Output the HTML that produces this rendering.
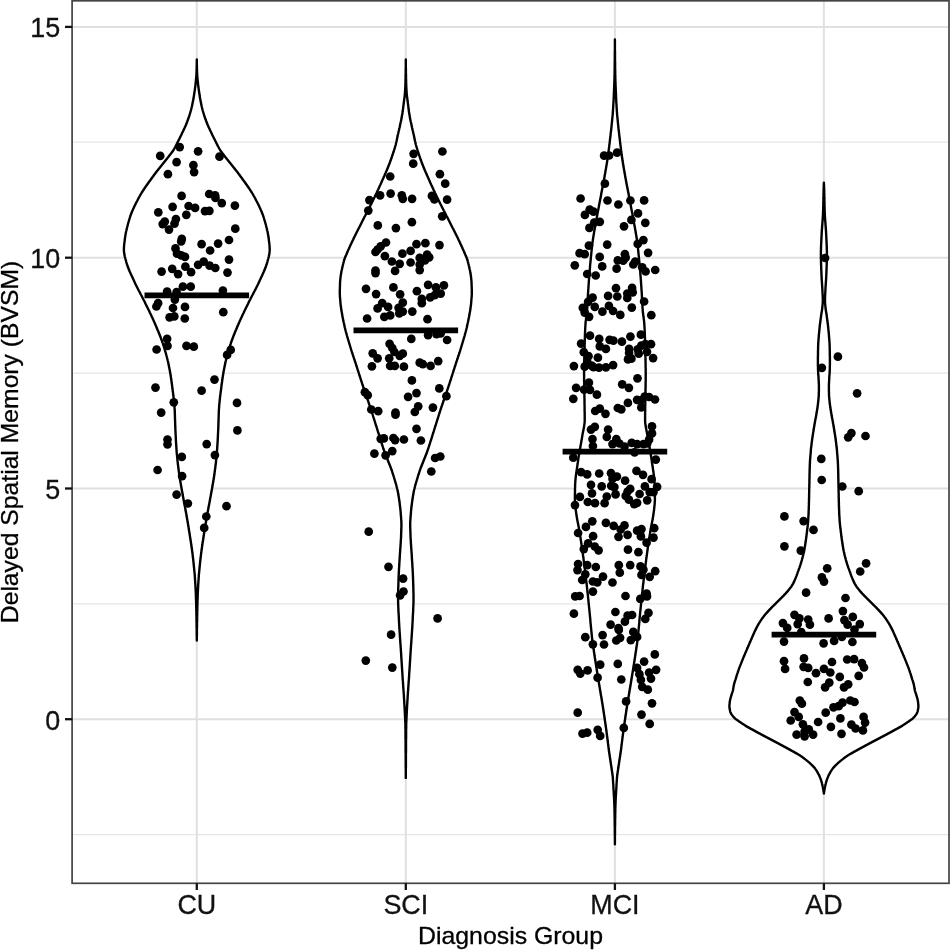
<!DOCTYPE html>
<html lang="en"><head><meta charset="utf-8"><title>Delayed Spatial Memory (BVSM) by Diagnosis Group</title>
<style>html,body{margin:0;padding:0;background:#fff}body{width:950px;height:950px;overflow:hidden}svg{display:block}text{font-family:"Liberation Sans",Arial,sans-serif}</style></head><body>
<svg width="950" height="950" viewBox="0 0 950 950">
<rect width="950" height="950" fill="#fff"/>
<g stroke="#e0e0e0" fill="none">
<line x1="72.1" x2="949.0" y1="834.6" y2="834.6" stroke-width="1.3" stroke="#e6e6e6"/>
<line x1="72.1" x2="949.0" y1="603.9" y2="603.9" stroke-width="1.3" stroke="#e6e6e6"/>
<line x1="72.1" x2="949.0" y1="373.1" y2="373.1" stroke-width="1.3" stroke="#e6e6e6"/>
<line x1="72.1" x2="949.0" y1="142.2" y2="142.2" stroke-width="1.3" stroke="#e6e6e6"/>
<line x1="72.1" x2="949.0" y1="719.2" y2="719.2" stroke-width="2"/>
<line x1="72.1" x2="949.0" y1="488.5" y2="488.5" stroke-width="2"/>
<line x1="72.1" x2="949.0" y1="257.7" y2="257.7" stroke-width="2"/>
<line x1="72.1" x2="949.0" y1="26.9" y2="26.9" stroke-width="2"/>
<line x1="196.8" x2="196.8" y1="0.8" y2="883.3" stroke-width="2"/>
<line x1="405.8" x2="405.8" y1="0.8" y2="883.3" stroke-width="2"/>
<line x1="614.9" x2="614.9" y1="0.8" y2="883.3" stroke-width="2"/>
<line x1="823.9" x2="823.9" y1="0.8" y2="883.3" stroke-width="2"/>
</g>
<g fill="#fff" stroke="#000" stroke-width="2.4" stroke-linejoin="round">
<path d="M196.8,59.5 196.8,60.5 196.8,61.5 196.8,62.5 196.8,63.5 196.8,64.5 196.7,65.5 196.7,66.5 196.7,67.5 196.7,68.5 196.6,69.5 196.6,70.5 196.6,71.5 196.5,72.5 196.5,73.5 196.4,74.5 196.4,75.5 196.3,76.5 196.2,77.5 196.1,78.5 196.0,79.5 195.9,80.5 195.8,81.5 195.7,82.5 195.6,83.5 195.5,84.5 195.4,85.5 195.3,86.5 195.1,87.5 195.0,88.5 194.9,89.5 194.7,90.5 194.6,91.5 194.4,92.5 194.3,93.5 194.1,94.5 194.0,95.5 193.8,96.5 193.7,97.5 193.5,98.5 193.3,99.5 193.1,100.5 192.9,101.5 192.7,102.5 192.5,103.5 192.3,104.5 192.1,105.5 191.9,106.5 191.6,107.5 191.4,108.5 191.1,109.5 190.9,110.5 190.6,111.5 190.3,112.5 190.0,113.5 189.7,114.5 189.4,115.5 189.1,116.5 188.7,117.5 188.4,118.5 188.0,119.5 187.6,120.5 187.3,121.5 186.9,122.5 186.5,123.5 186.1,124.5 185.7,125.5 185.2,126.5 184.8,127.5 184.3,128.5 183.8,129.5 183.4,130.5 182.9,131.5 182.4,132.5 181.9,133.5 181.5,134.5 181.0,135.5 180.5,136.5 180.0,137.5 179.5,138.5 179.0,139.5 178.5,140.5 178.0,141.5 177.5,142.5 177.0,143.5 176.5,144.5 176.0,145.5 175.5,146.5 174.9,147.5 174.4,148.5 173.8,149.5 173.2,150.5 172.5,151.5 171.7,152.5 171.0,153.5 170.2,154.5 169.4,155.5 168.7,156.5 167.9,157.5 167.1,158.5 166.3,159.5 165.5,160.5 164.7,161.5 163.9,162.5 163.1,163.5 162.3,164.5 161.5,165.5 160.7,166.5 159.9,167.5 159.1,168.5 158.3,169.5 157.5,170.5 156.7,171.5 155.9,172.5 155.2,173.5 154.4,174.5 153.7,175.5 153.0,176.5 152.2,177.5 151.5,178.5 150.8,179.5 150.1,180.5 149.3,181.5 148.6,182.5 147.9,183.5 147.2,184.5 146.5,185.5 145.8,186.5 145.1,187.5 144.4,188.5 143.8,189.5 143.1,190.5 142.5,191.5 141.8,192.5 141.2,193.5 140.6,194.5 140.1,195.5 139.5,196.5 138.9,197.5 138.4,198.5 137.9,199.5 137.4,200.5 136.8,201.5 136.3,202.5 135.8,203.5 135.3,204.5 134.8,205.5 134.3,206.5 133.9,207.5 133.4,208.5 133.0,209.5 132.5,210.5 132.1,211.5 131.7,212.5 131.3,213.5 130.9,214.5 130.6,215.5 130.2,216.5 129.9,217.5 129.6,218.5 129.3,219.5 129.0,220.5 128.7,221.5 128.4,222.5 128.1,223.5 127.8,224.5 127.6,225.5 127.3,226.5 127.1,227.5 126.8,228.5 126.6,229.5 126.4,230.5 126.1,231.5 125.9,232.5 125.7,233.5 125.6,234.5 125.4,235.5 125.2,236.5 125.1,237.5 124.9,238.5 124.8,239.5 124.7,240.5 124.6,241.5 124.4,242.5 124.3,243.5 124.2,244.5 124.1,245.5 124.0,246.5 124.0,247.5 123.9,248.5 123.9,249.5 123.9,250.5 124.0,251.5 124.1,252.5 124.2,253.5 124.4,254.5 124.6,255.5 124.8,256.5 125.1,257.5 125.3,258.5 125.6,259.5 125.9,260.5 126.1,261.5 126.4,262.5 126.7,263.5 127.0,264.5 127.4,265.5 127.7,266.5 128.1,267.5 128.5,268.5 128.9,269.5 129.3,270.5 129.7,271.5 130.2,272.5 130.6,273.5 131.1,274.5 131.5,275.5 132.0,276.5 132.5,277.5 132.9,278.5 133.4,279.5 133.9,280.5 134.3,281.5 134.8,282.5 135.2,283.5 135.7,284.5 136.2,285.5 136.7,286.5 137.2,287.5 137.7,288.5 138.2,289.5 138.7,290.5 139.3,291.5 139.8,292.5 140.3,293.5 140.8,294.5 141.4,295.5 141.9,296.5 142.4,297.5 142.9,298.5 143.4,299.5 144.0,300.5 144.5,301.5 145.0,302.5 145.4,303.5 145.9,304.5 146.4,305.5 146.9,306.5 147.4,307.5 147.9,308.5 148.4,309.5 148.9,310.5 149.4,311.5 149.8,312.5 150.3,313.5 150.8,314.5 151.3,315.5 151.7,316.5 152.2,317.5 152.7,318.5 153.1,319.5 153.6,320.5 154.0,321.5 154.5,322.5 154.9,323.5 155.3,324.5 155.8,325.5 156.2,326.5 156.6,327.5 157.0,328.5 157.4,329.5 157.9,330.5 158.3,331.5 158.7,332.5 159.1,333.5 159.5,334.5 159.9,335.5 160.3,336.5 160.7,337.5 161.0,338.5 161.4,339.5 161.8,340.5 162.1,341.5 162.5,342.5 162.8,343.5 163.1,344.5 163.5,345.5 163.8,346.5 164.1,347.5 164.4,348.5 164.7,349.5 165.0,350.5 165.3,351.5 165.6,352.5 165.9,353.5 166.2,354.5 166.4,355.5 166.7,356.5 167.0,357.5 167.2,358.5 167.5,359.5 167.7,360.5 168.0,361.5 168.2,362.5 168.4,363.5 168.6,364.5 168.8,365.5 169.0,366.5 169.2,367.5 169.4,368.5 169.6,369.5 169.8,370.5 170.0,371.5 170.1,372.5 170.3,373.5 170.5,374.5 170.6,375.5 170.8,376.5 170.9,377.5 171.1,378.5 171.2,379.5 171.4,380.5 171.5,381.5 171.6,382.5 171.8,383.5 171.9,384.5 172.1,385.5 172.2,386.5 172.3,387.5 172.4,388.5 172.6,389.5 172.7,390.5 172.8,391.5 173.0,392.5 173.1,393.5 173.2,394.5 173.3,395.5 173.5,396.5 173.6,397.5 173.7,398.5 173.8,399.5 173.9,400.5 174.0,401.5 174.1,402.5 174.2,403.5 174.3,404.5 174.4,405.5 174.5,406.5 174.5,407.5 174.6,408.5 174.7,409.5 174.7,410.5 174.8,411.5 174.8,412.5 174.8,413.5 174.9,414.5 174.9,415.5 174.9,416.5 175.0,417.5 175.0,418.5 175.0,419.5 175.1,420.5 175.1,421.5 175.1,422.5 175.2,423.5 175.2,424.5 175.2,425.5 175.3,426.5 175.3,427.5 175.3,428.5 175.4,429.5 175.4,430.5 175.5,431.5 175.5,432.5 175.6,433.5 175.6,434.5 175.7,435.5 175.7,436.5 175.8,437.5 175.8,438.5 175.9,439.5 175.9,440.5 176.0,441.5 176.0,442.5 176.1,443.5 176.2,444.5 176.2,445.5 176.3,446.5 176.4,447.5 176.4,448.5 176.5,449.5 176.6,450.5 176.6,451.5 176.7,452.5 176.8,453.5 176.9,454.5 177.0,455.5 177.1,456.5 177.2,457.5 177.3,458.5 177.4,459.5 177.5,460.5 177.6,461.5 177.7,462.5 177.8,463.5 177.9,464.5 178.1,465.5 178.2,466.5 178.3,467.5 178.4,468.5 178.6,469.5 178.7,470.5 178.8,471.5 179.0,472.5 179.1,473.5 179.2,474.5 179.4,475.5 179.5,476.5 179.7,477.5 179.8,478.5 180.0,479.5 180.2,480.5 180.3,481.5 180.5,482.5 180.7,483.5 180.9,484.5 181.0,485.5 181.2,486.5 181.4,487.5 181.6,488.5 181.7,489.5 181.9,490.5 182.1,491.5 182.3,492.5 182.5,493.5 182.6,494.5 182.8,495.5 183.0,496.5 183.2,497.5 183.4,498.5 183.6,499.5 183.7,500.5 183.9,501.5 184.1,502.5 184.3,503.5 184.5,504.5 184.7,505.5 184.9,506.5 185.1,507.5 185.3,508.5 185.4,509.5 185.6,510.5 185.8,511.5 186.0,512.5 186.2,513.5 186.4,514.5 186.5,515.5 186.7,516.5 186.9,517.5 187.0,518.5 187.2,519.5 187.4,520.5 187.6,521.5 187.7,522.5 187.9,523.5 188.1,524.5 188.2,525.5 188.4,526.5 188.6,527.5 188.7,528.5 188.9,529.5 189.0,530.5 189.2,531.5 189.4,532.5 189.5,533.5 189.7,534.5 189.8,535.5 190.0,536.5 190.1,537.5 190.3,538.5 190.4,539.5 190.6,540.5 190.8,541.5 190.9,542.5 191.1,543.5 191.2,544.5 191.4,545.5 191.5,546.5 191.6,547.5 191.8,548.5 191.9,549.5 192.1,550.5 192.2,551.5 192.3,552.5 192.5,553.5 192.6,554.5 192.7,555.5 192.8,556.5 192.9,557.5 193.1,558.5 193.2,559.5 193.3,560.5 193.4,561.5 193.5,562.5 193.6,563.5 193.7,564.5 193.8,565.5 193.9,566.5 194.0,567.5 194.1,568.5 194.2,569.5 194.3,570.5 194.4,571.5 194.5,572.5 194.6,573.5 194.7,574.5 194.8,575.5 194.8,576.5 194.9,577.5 195.0,578.5 195.0,579.5 195.1,580.5 195.2,581.5 195.2,582.5 195.3,583.5 195.4,584.5 195.4,585.5 195.5,586.5 195.5,587.5 195.6,588.5 195.6,589.5 195.7,590.5 195.7,591.5 195.8,592.5 195.8,593.5 195.9,594.5 195.9,595.5 195.9,596.5 196.0,597.5 196.0,598.5 196.0,599.5 196.1,600.5 196.1,601.5 196.1,602.5 196.2,603.5 196.2,604.5 196.2,605.5 196.2,606.5 196.3,607.5 196.3,608.5 196.3,609.5 196.3,610.5 196.4,611.5 196.4,612.5 196.4,613.5 196.4,614.5 196.4,615.5 196.5,616.5 196.5,617.5 196.5,618.5 196.5,619.5 196.5,620.5 196.5,621.5 196.6,622.5 196.6,623.5 196.6,624.5 196.6,625.5 196.6,626.5 196.6,627.5 196.7,628.5 196.7,629.5 196.7,630.5 196.7,631.5 196.7,632.5 196.7,633.5 196.7,634.5 196.7,635.5 196.8,636.5 196.8,637.5 196.8,638.5 196.8,639.5 196.8,640.5 196.8,640.5 196.8,639.5 196.8,638.5 196.8,637.5 196.8,636.5 196.9,635.5 196.9,634.5 196.9,633.5 196.9,632.5 196.9,631.5 196.9,630.5 196.9,629.5 196.9,628.5 197.0,627.5 197.0,626.5 197.0,625.5 197.0,624.5 197.0,623.5 197.0,622.5 197.1,621.5 197.1,620.5 197.1,619.5 197.1,618.5 197.1,617.5 197.1,616.5 197.2,615.5 197.2,614.5 197.2,613.5 197.2,612.5 197.2,611.5 197.3,610.5 197.3,609.5 197.3,608.5 197.3,607.5 197.4,606.5 197.4,605.5 197.4,604.5 197.4,603.5 197.5,602.5 197.5,601.5 197.5,600.5 197.6,599.5 197.6,598.5 197.6,597.5 197.7,596.5 197.7,595.5 197.7,594.5 197.8,593.5 197.8,592.5 197.9,591.5 197.9,590.5 198.0,589.5 198.0,588.5 198.1,587.5 198.1,586.5 198.2,585.5 198.2,584.5 198.3,583.5 198.4,582.5 198.4,581.5 198.5,580.5 198.6,579.5 198.6,578.5 198.7,577.5 198.8,576.5 198.8,575.5 198.9,574.5 199.0,573.5 199.1,572.5 199.2,571.5 199.3,570.5 199.4,569.5 199.5,568.5 199.6,567.5 199.7,566.5 199.8,565.5 199.9,564.5 200.0,563.5 200.1,562.5 200.2,561.5 200.3,560.5 200.4,559.5 200.5,558.5 200.7,557.5 200.8,556.5 200.9,555.5 201.0,554.5 201.1,553.5 201.3,552.5 201.4,551.5 201.5,550.5 201.7,549.5 201.8,548.5 202.0,547.5 202.1,546.5 202.2,545.5 202.4,544.5 202.5,543.5 202.7,542.5 202.8,541.5 203.0,540.5 203.2,539.5 203.3,538.5 203.5,537.5 203.6,536.5 203.8,535.5 203.9,534.5 204.1,533.5 204.2,532.5 204.4,531.5 204.6,530.5 204.7,529.5 204.9,528.5 205.0,527.5 205.2,526.5 205.4,525.5 205.5,524.5 205.7,523.5 205.9,522.5 206.0,521.5 206.2,520.5 206.4,519.5 206.6,518.5 206.7,517.5 206.9,516.5 207.1,515.5 207.2,514.5 207.4,513.5 207.6,512.5 207.8,511.5 208.0,510.5 208.2,509.5 208.3,508.5 208.5,507.5 208.7,506.5 208.9,505.5 209.1,504.5 209.3,503.5 209.5,502.5 209.7,501.5 209.9,500.5 210.0,499.5 210.2,498.5 210.4,497.5 210.6,496.5 210.8,495.5 211.0,494.5 211.1,493.5 211.3,492.5 211.5,491.5 211.7,490.5 211.9,489.5 212.0,488.5 212.2,487.5 212.4,486.5 212.6,485.5 212.7,484.5 212.9,483.5 213.1,482.5 213.3,481.5 213.4,480.5 213.6,479.5 213.8,478.5 213.9,477.5 214.1,476.5 214.2,475.5 214.4,474.5 214.5,473.5 214.6,472.5 214.8,471.5 214.9,470.5 215.0,469.5 215.2,468.5 215.3,467.5 215.4,466.5 215.5,465.5 215.7,464.5 215.8,463.5 215.9,462.5 216.0,461.5 216.1,460.5 216.2,459.5 216.3,458.5 216.4,457.5 216.5,456.5 216.6,455.5 216.7,454.5 216.8,453.5 216.9,452.5 217.0,451.5 217.0,450.5 217.1,449.5 217.2,448.5 217.2,447.5 217.3,446.5 217.4,445.5 217.4,444.5 217.5,443.5 217.6,442.5 217.6,441.5 217.7,440.5 217.7,439.5 217.8,438.5 217.8,437.5 217.9,436.5 217.9,435.5 218.0,434.5 218.0,433.5 218.1,432.5 218.1,431.5 218.2,430.5 218.2,429.5 218.3,428.5 218.3,427.5 218.3,426.5 218.4,425.5 218.4,424.5 218.4,423.5 218.5,422.5 218.5,421.5 218.5,420.5 218.6,419.5 218.6,418.5 218.6,417.5 218.7,416.5 218.7,415.5 218.7,414.5 218.8,413.5 218.8,412.5 218.8,411.5 218.9,410.5 218.9,409.5 219.0,408.5 219.1,407.5 219.1,406.5 219.2,405.5 219.3,404.5 219.4,403.5 219.5,402.5 219.6,401.5 219.7,400.5 219.8,399.5 219.9,398.5 220.0,397.5 220.1,396.5 220.3,395.5 220.4,394.5 220.5,393.5 220.6,392.5 220.8,391.5 220.9,390.5 221.0,389.5 221.2,388.5 221.3,387.5 221.4,386.5 221.5,385.5 221.7,384.5 221.8,383.5 222.0,382.5 222.1,381.5 222.2,380.5 222.4,379.5 222.5,378.5 222.7,377.5 222.8,376.5 223.0,375.5 223.1,374.5 223.3,373.5 223.5,372.5 223.6,371.5 223.8,370.5 224.0,369.5 224.2,368.5 224.4,367.5 224.6,366.5 224.8,365.5 225.0,364.5 225.2,363.5 225.4,362.5 225.6,361.5 225.9,360.5 226.1,359.5 226.4,358.5 226.6,357.5 226.9,356.5 227.2,355.5 227.4,354.5 227.7,353.5 228.0,352.5 228.3,351.5 228.6,350.5 228.9,349.5 229.2,348.5 229.5,347.5 229.8,346.5 230.1,345.5 230.5,344.5 230.8,343.5 231.1,342.5 231.5,341.5 231.8,340.5 232.2,339.5 232.6,338.5 232.9,337.5 233.3,336.5 233.7,335.5 234.1,334.5 234.5,333.5 234.9,332.5 235.3,331.5 235.7,330.5 236.2,329.5 236.6,328.5 237.0,327.5 237.4,326.5 237.8,325.5 238.3,324.5 238.7,323.5 239.1,322.5 239.6,321.5 240.0,320.5 240.5,319.5 240.9,318.5 241.4,317.5 241.9,316.5 242.3,315.5 242.8,314.5 243.3,313.5 243.8,312.5 244.2,311.5 244.7,310.5 245.2,309.5 245.7,308.5 246.2,307.5 246.7,306.5 247.2,305.5 247.7,304.5 248.2,303.5 248.6,302.5 249.1,301.5 249.6,300.5 250.2,299.5 250.7,298.5 251.2,297.5 251.7,296.5 252.2,295.5 252.8,294.5 253.3,293.5 253.8,292.5 254.3,291.5 254.9,290.5 255.4,289.5 255.9,288.5 256.4,287.5 256.9,286.5 257.4,285.5 257.9,284.5 258.4,283.5 258.8,282.5 259.3,281.5 259.7,280.5 260.2,279.5 260.7,278.5 261.1,277.5 261.6,276.5 262.1,275.5 262.5,274.5 263.0,273.5 263.4,272.5 263.9,271.5 264.3,270.5 264.7,269.5 265.1,268.5 265.5,267.5 265.9,266.5 266.2,265.5 266.6,264.5 266.9,263.5 267.2,262.5 267.5,261.5 267.7,260.5 268.0,259.5 268.3,258.5 268.5,257.5 268.8,256.5 269.0,255.5 269.2,254.5 269.4,253.5 269.5,252.5 269.6,251.5 269.7,250.5 269.7,249.5 269.7,248.5 269.6,247.5 269.6,246.5 269.5,245.5 269.4,244.5 269.3,243.5 269.2,242.5 269.0,241.5 268.9,240.5 268.8,239.5 268.7,238.5 268.5,237.5 268.4,236.5 268.2,235.5 268.0,234.5 267.9,233.5 267.7,232.5 267.5,231.5 267.2,230.5 267.0,229.5 266.8,228.5 266.5,227.5 266.3,226.5 266.0,225.5 265.8,224.5 265.5,223.5 265.2,222.5 264.9,221.5 264.6,220.5 264.3,219.5 264.0,218.5 263.7,217.5 263.4,216.5 263.0,215.5 262.7,214.5 262.3,213.5 261.9,212.5 261.5,211.5 261.1,210.5 260.6,209.5 260.2,208.5 259.7,207.5 259.3,206.5 258.8,205.5 258.3,204.5 257.8,203.5 257.3,202.5 256.8,201.5 256.2,200.5 255.7,199.5 255.2,198.5 254.7,197.5 254.1,196.5 253.5,195.5 253.0,194.5 252.4,193.5 251.8,192.5 251.1,191.5 250.5,190.5 249.8,189.5 249.2,188.5 248.5,187.5 247.8,186.5 247.1,185.5 246.4,184.5 245.7,183.5 245.0,182.5 244.3,181.5 243.5,180.5 242.8,179.5 242.1,178.5 241.4,177.5 240.6,176.5 239.9,175.5 239.2,174.5 238.4,173.5 237.7,172.5 236.9,171.5 236.1,170.5 235.3,169.5 234.5,168.5 233.7,167.5 232.9,166.5 232.1,165.5 231.3,164.5 230.5,163.5 229.7,162.5 228.9,161.5 228.1,160.5 227.3,159.5 226.5,158.5 225.7,157.5 224.9,156.5 224.2,155.5 223.4,154.5 222.6,153.5 221.9,152.5 221.1,151.5 220.4,150.5 219.8,149.5 219.2,148.5 218.7,147.5 218.1,146.5 217.6,145.5 217.1,144.5 216.6,143.5 216.1,142.5 215.6,141.5 215.1,140.5 214.6,139.5 214.1,138.5 213.6,137.5 213.1,136.5 212.6,135.5 212.1,134.5 211.7,133.5 211.2,132.5 210.7,131.5 210.2,130.5 209.8,129.5 209.3,128.5 208.8,127.5 208.4,126.5 207.9,125.5 207.5,124.5 207.1,123.5 206.7,122.5 206.3,121.5 206.0,120.5 205.6,119.5 205.2,118.5 204.9,117.5 204.5,116.5 204.2,115.5 203.9,114.5 203.6,113.5 203.3,112.5 203.0,111.5 202.7,110.5 202.5,109.5 202.2,108.5 202.0,107.5 201.7,106.5 201.5,105.5 201.3,104.5 201.1,103.5 200.9,102.5 200.7,101.5 200.5,100.5 200.3,99.5 200.1,98.5 199.9,97.5 199.8,96.5 199.6,95.5 199.5,94.5 199.3,93.5 199.2,92.5 199.0,91.5 198.9,90.5 198.7,89.5 198.6,88.5 198.5,87.5 198.3,86.5 198.2,85.5 198.1,84.5 198.0,83.5 197.9,82.5 197.8,81.5 197.7,80.5 197.6,79.5 197.5,78.5 197.4,77.5 197.3,76.5 197.2,75.5 197.2,74.5 197.1,73.5 197.1,72.5 197.0,71.5 197.0,70.5 197.0,69.5 196.9,68.5 196.9,67.5 196.9,66.5 196.9,65.5 196.8,64.5 196.8,63.5 196.8,62.5 196.8,61.5 196.8,60.5 196.8,59.5Z"/>
<path d="M405.8,59.5 405.8,60.5 405.8,61.5 405.8,62.5 405.8,63.5 405.8,64.5 405.8,65.5 405.8,66.5 405.8,67.5 405.7,68.5 405.7,69.5 405.7,70.5 405.7,71.5 405.7,72.5 405.7,73.5 405.6,74.5 405.6,75.5 405.6,76.5 405.6,77.5 405.6,78.5 405.5,79.5 405.5,80.5 405.5,81.5 405.5,82.5 405.4,83.5 405.4,84.5 405.4,85.5 405.3,86.5 405.3,87.5 405.2,88.5 405.2,89.5 405.1,90.5 405.0,91.5 405.0,92.5 404.9,93.5 404.8,94.5 404.7,95.5 404.6,96.5 404.5,97.5 404.3,98.5 404.2,99.5 404.1,100.5 403.9,101.5 403.8,102.5 403.7,103.5 403.6,104.5 403.4,105.5 403.3,106.5 403.2,107.5 403.1,108.5 402.9,109.5 402.8,110.5 402.7,111.5 402.5,112.5 402.4,113.5 402.2,114.5 402.0,115.5 401.8,116.5 401.7,117.5 401.5,118.5 401.3,119.5 401.1,120.5 400.9,121.5 400.6,122.5 400.4,123.5 400.2,124.5 400.0,125.5 399.8,126.5 399.6,127.5 399.3,128.5 399.1,129.5 398.9,130.5 398.6,131.5 398.4,132.5 398.2,133.5 397.9,134.5 397.7,135.5 397.5,136.5 397.3,137.5 397.1,138.5 396.9,139.5 396.7,140.5 396.5,141.5 396.2,142.5 396.0,143.5 395.8,144.5 395.5,145.5 395.2,146.5 394.9,147.5 394.6,148.5 394.3,149.5 394.0,150.5 393.7,151.5 393.3,152.5 393.0,153.5 392.7,154.5 392.3,155.5 392.0,156.5 391.7,157.5 391.3,158.5 391.0,159.5 390.6,160.5 390.2,161.5 389.9,162.5 389.5,163.5 389.1,164.5 388.7,165.5 388.3,166.5 387.9,167.5 387.5,168.5 387.1,169.5 386.7,170.5 386.2,171.5 385.8,172.5 385.3,173.5 384.9,174.5 384.5,175.5 384.0,176.5 383.6,177.5 383.1,178.5 382.7,179.5 382.2,180.5 381.8,181.5 381.4,182.5 380.9,183.5 380.5,184.5 380.0,185.5 379.5,186.5 379.1,187.5 378.6,188.5 378.2,189.5 377.7,190.5 377.2,191.5 376.8,192.5 376.3,193.5 375.8,194.5 375.3,195.5 374.9,196.5 374.4,197.5 373.9,198.5 373.4,199.5 372.9,200.5 372.4,201.5 371.9,202.5 371.5,203.5 370.9,204.5 370.4,205.5 369.9,206.5 369.4,207.5 368.9,208.5 368.4,209.5 367.9,210.5 367.3,211.5 366.8,212.5 366.3,213.5 365.8,214.5 365.3,215.5 364.7,216.5 364.2,217.5 363.7,218.5 363.2,219.5 362.7,220.5 362.2,221.5 361.7,222.5 361.2,223.5 360.7,224.5 360.2,225.5 359.7,226.5 359.2,227.5 358.6,228.5 358.1,229.5 357.6,230.5 357.1,231.5 356.6,232.5 356.1,233.5 355.6,234.5 355.1,235.5 354.6,236.5 354.1,237.5 353.6,238.5 353.2,239.5 352.7,240.5 352.2,241.5 351.7,242.5 351.3,243.5 350.8,244.5 350.3,245.5 349.9,246.5 349.4,247.5 349.0,248.5 348.5,249.5 348.1,250.5 347.6,251.5 347.2,252.5 346.8,253.5 346.4,254.5 345.9,255.5 345.5,256.5 345.1,257.5 344.7,258.5 344.4,259.5 344.0,260.5 343.8,261.5 343.5,262.5 343.3,263.5 343.0,264.5 342.8,265.5 342.5,266.5 342.3,267.5 342.1,268.5 341.9,269.5 341.6,270.5 341.4,271.5 341.3,272.5 341.1,273.5 340.9,274.5 340.8,275.5 340.6,276.5 340.5,277.5 340.4,278.5 340.3,279.5 340.2,280.5 340.1,281.5 340.1,282.5 340.0,283.5 340.0,284.5 340.0,285.5 339.9,286.5 339.9,287.5 339.9,288.5 339.8,289.5 339.8,290.5 339.8,291.5 339.8,292.5 339.8,293.5 339.8,294.5 339.9,295.5 339.9,296.5 340.0,297.5 340.1,298.5 340.2,299.5 340.3,300.5 340.3,301.5 340.4,302.5 340.5,303.5 340.6,304.5 340.7,305.5 340.9,306.5 341.0,307.5 341.1,308.5 341.3,309.5 341.4,310.5 341.6,311.5 341.8,312.5 342.0,313.5 342.1,314.5 342.3,315.5 342.5,316.5 342.7,317.5 342.9,318.5 343.1,319.5 343.3,320.5 343.5,321.5 343.7,322.5 344.0,323.5 344.2,324.5 344.4,325.5 344.6,326.5 344.8,327.5 345.1,328.5 345.3,329.5 345.6,330.5 345.8,331.5 346.1,332.5 346.4,333.5 346.7,334.5 346.9,335.5 347.2,336.5 347.5,337.5 347.8,338.5 348.1,339.5 348.4,340.5 348.7,341.5 349.0,342.5 349.3,343.5 349.6,344.5 349.9,345.5 350.2,346.5 350.5,347.5 350.8,348.5 351.1,349.5 351.4,350.5 351.7,351.5 352.0,352.5 352.4,353.5 352.7,354.5 353.0,355.5 353.4,356.5 353.7,357.5 354.0,358.5 354.4,359.5 354.7,360.5 355.0,361.5 355.4,362.5 355.7,363.5 356.0,364.5 356.3,365.5 356.7,366.5 357.0,367.5 357.3,368.5 357.6,369.5 357.9,370.5 358.3,371.5 358.6,372.5 358.9,373.5 359.2,374.5 359.5,375.5 359.9,376.5 360.2,377.5 360.5,378.5 360.8,379.5 361.1,380.5 361.5,381.5 361.8,382.5 362.1,383.5 362.4,384.5 362.8,385.5 363.1,386.5 363.4,387.5 363.8,388.5 364.1,389.5 364.4,390.5 364.8,391.5 365.1,392.5 365.5,393.5 365.8,394.5 366.2,395.5 366.5,396.5 366.9,397.5 367.2,398.5 367.6,399.5 367.9,400.5 368.3,401.5 368.6,402.5 368.9,403.5 369.3,404.5 369.6,405.5 370.0,406.5 370.3,407.5 370.6,408.5 371.0,409.5 371.3,410.5 371.6,411.5 371.9,412.5 372.3,413.5 372.6,414.5 372.9,415.5 373.2,416.5 373.5,417.5 373.8,418.5 374.2,419.5 374.5,420.5 374.8,421.5 375.1,422.5 375.4,423.5 375.7,424.5 376.0,425.5 376.4,426.5 376.7,427.5 377.0,428.5 377.3,429.5 377.6,430.5 377.9,431.5 378.2,432.5 378.6,433.5 378.9,434.5 379.2,435.5 379.5,436.5 379.8,437.5 380.1,438.5 380.4,439.5 380.8,440.5 381.1,441.5 381.4,442.5 381.7,443.5 382.0,444.5 382.4,445.5 382.7,446.5 383.0,447.5 383.3,448.5 383.7,449.5 384.0,450.5 384.4,451.5 384.7,452.5 385.1,453.5 385.5,454.5 385.9,455.5 386.3,456.5 386.7,457.5 387.1,458.5 387.5,459.5 387.9,460.5 388.3,461.5 388.7,462.5 389.1,463.5 389.5,464.5 389.9,465.5 390.3,466.5 390.7,467.5 391.1,468.5 391.4,469.5 391.8,470.5 392.1,471.5 392.4,472.5 392.7,473.5 393.1,474.5 393.4,475.5 393.7,476.5 394.0,477.5 394.3,478.5 394.6,479.5 394.9,480.5 395.2,481.5 395.5,482.5 395.8,483.5 396.1,484.5 396.4,485.5 396.6,486.5 396.9,487.5 397.1,488.5 397.4,489.5 397.6,490.5 397.8,491.5 398.0,492.5 398.2,493.5 398.3,494.5 398.5,495.5 398.7,496.5 398.8,497.5 399.0,498.5 399.1,499.5 399.3,500.5 399.4,501.5 399.6,502.5 399.7,503.5 399.8,504.5 399.9,505.5 400.1,506.5 400.2,507.5 400.3,508.5 400.4,509.5 400.5,510.5 400.6,511.5 400.7,512.5 400.7,513.5 400.8,514.5 400.9,515.5 401.0,516.5 401.1,517.5 401.1,518.5 401.2,519.5 401.3,520.5 401.3,521.5 401.4,522.5 401.4,523.5 401.4,524.5 401.4,525.5 401.4,526.5 401.4,527.5 401.3,528.5 401.3,529.5 401.3,530.5 401.2,531.5 401.2,532.5 401.2,533.5 401.1,534.5 401.1,535.5 401.1,536.5 401.0,537.5 401.0,538.5 400.9,539.5 400.8,540.5 400.8,541.5 400.7,542.5 400.7,543.5 400.6,544.5 400.5,545.5 400.5,546.5 400.4,547.5 400.3,548.5 400.2,549.5 400.2,550.5 400.1,551.5 400.0,552.5 400.0,553.5 399.9,554.5 399.8,555.5 399.8,556.5 399.7,557.5 399.7,558.5 399.6,559.5 399.5,560.5 399.5,561.5 399.4,562.5 399.3,563.5 399.3,564.5 399.2,565.5 399.2,566.5 399.1,567.5 399.0,568.5 399.0,569.5 398.9,570.5 398.9,571.5 398.8,572.5 398.8,573.5 398.7,574.5 398.7,575.5 398.6,576.5 398.6,577.5 398.6,578.5 398.5,579.5 398.5,580.5 398.5,581.5 398.4,582.5 398.4,583.5 398.4,584.5 398.3,585.5 398.3,586.5 398.3,587.5 398.2,588.5 398.2,589.5 398.2,590.5 398.2,591.5 398.2,592.5 398.1,593.5 398.1,594.5 398.1,595.5 398.1,596.5 398.1,597.5 398.1,598.5 398.1,599.5 398.1,600.5 398.1,601.5 398.1,602.5 398.2,603.5 398.2,604.5 398.2,605.5 398.3,606.5 398.3,607.5 398.4,608.5 398.4,609.5 398.4,610.5 398.5,611.5 398.5,612.5 398.6,613.5 398.7,614.5 398.7,615.5 398.8,616.5 398.8,617.5 398.9,618.5 398.9,619.5 398.9,620.5 399.0,621.5 399.1,622.5 399.1,623.5 399.2,624.5 399.2,625.5 399.3,626.5 399.3,627.5 399.4,628.5 399.5,629.5 399.5,630.5 399.6,631.5 399.7,632.5 399.7,633.5 399.8,634.5 399.9,635.5 399.9,636.5 400.0,637.5 400.1,638.5 400.1,639.5 400.2,640.5 400.3,641.5 400.3,642.5 400.4,643.5 400.5,644.5 400.6,645.5 400.6,646.5 400.7,647.5 400.8,648.5 400.8,649.5 400.9,650.5 401.0,651.5 401.0,652.5 401.1,653.5 401.2,654.5 401.2,655.5 401.3,656.5 401.3,657.5 401.4,658.5 401.5,659.5 401.5,660.5 401.6,661.5 401.7,662.5 401.7,663.5 401.8,664.5 401.8,665.5 401.9,666.5 402.0,667.5 402.0,668.5 402.1,669.5 402.2,670.5 402.2,671.5 402.3,672.5 402.4,673.5 402.4,674.5 402.5,675.5 402.5,676.5 402.6,677.5 402.7,678.5 402.7,679.5 402.8,680.5 402.9,681.5 403.0,682.5 403.0,683.5 403.1,684.5 403.2,685.5 403.2,686.5 403.3,687.5 403.4,688.5 403.4,689.5 403.5,690.5 403.6,691.5 403.7,692.5 403.7,693.5 403.8,694.5 403.9,695.5 403.9,696.5 404.0,697.5 404.0,698.5 404.1,699.5 404.2,700.5 404.2,701.5 404.3,702.5 404.3,703.5 404.4,704.5 404.5,705.5 404.5,706.5 404.6,707.5 404.6,708.5 404.7,709.5 404.7,710.5 404.8,711.5 404.8,712.5 404.9,713.5 404.9,714.5 405.0,715.5 405.0,716.5 405.1,717.5 405.1,718.5 405.2,719.5 405.2,720.5 405.3,721.5 405.3,722.5 405.4,723.5 405.4,724.5 405.4,725.5 405.4,726.5 405.4,727.5 405.4,728.5 405.5,729.5 405.5,730.5 405.5,731.5 405.5,732.5 405.5,733.5 405.5,734.5 405.5,735.5 405.5,736.5 405.5,737.5 405.5,738.5 405.6,739.5 405.6,740.5 405.6,741.5 405.6,742.5 405.6,743.5 405.6,744.5 405.6,745.5 405.6,746.5 405.6,747.5 405.6,748.5 405.6,749.5 405.6,750.5 405.6,751.5 405.6,752.5 405.7,753.5 405.7,754.5 405.7,755.5 405.7,756.5 405.7,757.5 405.7,758.5 405.7,759.5 405.7,760.5 405.7,761.5 405.7,762.5 405.7,763.5 405.7,764.5 405.7,765.5 405.7,766.5 405.7,767.5 405.8,768.5 405.8,769.5 405.8,770.5 405.8,771.5 405.8,772.5 405.8,773.5 405.8,774.5 405.8,775.5 405.8,776.5 405.8,777.5 405.8,777.9 405.8,777.9 405.8,777.5 405.8,776.5 405.8,775.5 405.8,774.5 405.8,773.5 405.8,772.5 405.8,771.5 405.8,770.5 405.8,769.5 405.8,768.5 405.9,767.5 405.9,766.5 405.9,765.5 405.9,764.5 405.9,763.5 405.9,762.5 405.9,761.5 405.9,760.5 405.9,759.5 405.9,758.5 405.9,757.5 405.9,756.5 405.9,755.5 405.9,754.5 405.9,753.5 406.0,752.5 406.0,751.5 406.0,750.5 406.0,749.5 406.0,748.5 406.0,747.5 406.0,746.5 406.0,745.5 406.0,744.5 406.0,743.5 406.0,742.5 406.0,741.5 406.0,740.5 406.0,739.5 406.1,738.5 406.1,737.5 406.1,736.5 406.1,735.5 406.1,734.5 406.1,733.5 406.1,732.5 406.1,731.5 406.1,730.5 406.1,729.5 406.2,728.5 406.2,727.5 406.2,726.5 406.2,725.5 406.2,724.5 406.2,723.5 406.3,722.5 406.3,721.5 406.4,720.5 406.4,719.5 406.5,718.5 406.5,717.5 406.6,716.5 406.6,715.5 406.7,714.5 406.7,713.5 406.8,712.5 406.8,711.5 406.9,710.5 406.9,709.5 407.0,708.5 407.0,707.5 407.1,706.5 407.1,705.5 407.2,704.5 407.3,703.5 407.3,702.5 407.4,701.5 407.4,700.5 407.5,699.5 407.6,698.5 407.6,697.5 407.7,696.5 407.7,695.5 407.8,694.5 407.9,693.5 407.9,692.5 408.0,691.5 408.1,690.5 408.2,689.5 408.2,688.5 408.3,687.5 408.4,686.5 408.4,685.5 408.5,684.5 408.6,683.5 408.6,682.5 408.7,681.5 408.8,680.5 408.9,679.5 408.9,678.5 409.0,677.5 409.1,676.5 409.1,675.5 409.2,674.5 409.2,673.5 409.3,672.5 409.4,671.5 409.4,670.5 409.5,669.5 409.6,668.5 409.6,667.5 409.7,666.5 409.8,665.5 409.8,664.5 409.9,663.5 409.9,662.5 410.0,661.5 410.1,660.5 410.1,659.5 410.2,658.5 410.3,657.5 410.3,656.5 410.4,655.5 410.4,654.5 410.5,653.5 410.6,652.5 410.6,651.5 410.7,650.5 410.8,649.5 410.8,648.5 410.9,647.5 411.0,646.5 411.0,645.5 411.1,644.5 411.2,643.5 411.3,642.5 411.3,641.5 411.4,640.5 411.5,639.5 411.5,638.5 411.6,637.5 411.7,636.5 411.7,635.5 411.8,634.5 411.9,633.5 411.9,632.5 412.0,631.5 412.1,630.5 412.1,629.5 412.2,628.5 412.3,627.5 412.3,626.5 412.4,625.5 412.4,624.5 412.5,623.5 412.5,622.5 412.6,621.5 412.7,620.5 412.7,619.5 412.7,618.5 412.8,617.5 412.8,616.5 412.9,615.5 412.9,614.5 413.0,613.5 413.1,612.5 413.1,611.5 413.2,610.5 413.2,609.5 413.2,608.5 413.3,607.5 413.3,606.5 413.4,605.5 413.4,604.5 413.4,603.5 413.5,602.5 413.5,601.5 413.5,600.5 413.5,599.5 413.5,598.5 413.5,597.5 413.5,596.5 413.5,595.5 413.5,594.5 413.5,593.5 413.4,592.5 413.4,591.5 413.4,590.5 413.4,589.5 413.4,588.5 413.3,587.5 413.3,586.5 413.3,585.5 413.2,584.5 413.2,583.5 413.2,582.5 413.1,581.5 413.1,580.5 413.1,579.5 413.0,578.5 413.0,577.5 413.0,576.5 412.9,575.5 412.9,574.5 412.8,573.5 412.8,572.5 412.7,571.5 412.7,570.5 412.6,569.5 412.6,568.5 412.5,567.5 412.4,566.5 412.4,565.5 412.3,564.5 412.3,563.5 412.2,562.5 412.1,561.5 412.1,560.5 412.0,559.5 411.9,558.5 411.9,557.5 411.8,556.5 411.8,555.5 411.7,554.5 411.6,553.5 411.6,552.5 411.5,551.5 411.4,550.5 411.4,549.5 411.3,548.5 411.2,547.5 411.1,546.5 411.1,545.5 411.0,544.5 410.9,543.5 410.9,542.5 410.8,541.5 410.8,540.5 410.7,539.5 410.6,538.5 410.6,537.5 410.5,536.5 410.5,535.5 410.5,534.5 410.4,533.5 410.4,532.5 410.4,531.5 410.3,530.5 410.3,529.5 410.3,528.5 410.2,527.5 410.2,526.5 410.2,525.5 410.2,524.5 410.2,523.5 410.2,522.5 410.3,521.5 410.3,520.5 410.4,519.5 410.5,518.5 410.5,517.5 410.6,516.5 410.7,515.5 410.8,514.5 410.9,513.5 410.9,512.5 411.0,511.5 411.1,510.5 411.2,509.5 411.3,508.5 411.4,507.5 411.5,506.5 411.7,505.5 411.8,504.5 411.9,503.5 412.0,502.5 412.2,501.5 412.3,500.5 412.5,499.5 412.6,498.5 412.8,497.5 412.9,496.5 413.1,495.5 413.3,494.5 413.4,493.5 413.6,492.5 413.8,491.5 414.0,490.5 414.2,489.5 414.5,488.5 414.7,487.5 415.0,486.5 415.2,485.5 415.5,484.5 415.8,483.5 416.1,482.5 416.4,481.5 416.7,480.5 417.0,479.5 417.3,478.5 417.6,477.5 417.9,476.5 418.2,475.5 418.5,474.5 418.9,473.5 419.2,472.5 419.5,471.5 419.8,470.5 420.2,469.5 420.5,468.5 420.9,467.5 421.3,466.5 421.7,465.5 422.1,464.5 422.5,463.5 422.9,462.5 423.3,461.5 423.7,460.5 424.1,459.5 424.5,458.5 424.9,457.5 425.3,456.5 425.7,455.5 426.1,454.5 426.5,453.5 426.9,452.5 427.2,451.5 427.6,450.5 427.9,449.5 428.3,448.5 428.6,447.5 428.9,446.5 429.2,445.5 429.6,444.5 429.9,443.5 430.2,442.5 430.5,441.5 430.8,440.5 431.2,439.5 431.5,438.5 431.8,437.5 432.1,436.5 432.4,435.5 432.7,434.5 433.0,433.5 433.4,432.5 433.7,431.5 434.0,430.5 434.3,429.5 434.6,428.5 434.9,427.5 435.2,426.5 435.6,425.5 435.9,424.5 436.2,423.5 436.5,422.5 436.8,421.5 437.1,420.5 437.4,419.5 437.8,418.5 438.1,417.5 438.4,416.5 438.7,415.5 439.0,414.5 439.3,413.5 439.7,412.5 440.0,411.5 440.3,410.5 440.6,409.5 441.0,408.5 441.3,407.5 441.6,406.5 442.0,405.5 442.3,404.5 442.7,403.5 443.0,402.5 443.3,401.5 443.7,400.5 444.0,399.5 444.4,398.5 444.7,397.5 445.1,396.5 445.4,395.5 445.8,394.5 446.1,393.5 446.5,392.5 446.8,391.5 447.2,390.5 447.5,389.5 447.8,388.5 448.2,387.5 448.5,386.5 448.8,385.5 449.2,384.5 449.5,383.5 449.8,382.5 450.1,381.5 450.5,380.5 450.8,379.5 451.1,378.5 451.4,377.5 451.7,376.5 452.1,375.5 452.4,374.5 452.7,373.5 453.0,372.5 453.3,371.5 453.7,370.5 454.0,369.5 454.3,368.5 454.6,367.5 454.9,366.5 455.3,365.5 455.6,364.5 455.9,363.5 456.2,362.5 456.6,361.5 456.9,360.5 457.2,359.5 457.6,358.5 457.9,357.5 458.2,356.5 458.6,355.5 458.9,354.5 459.2,353.5 459.6,352.5 459.9,351.5 460.2,350.5 460.5,349.5 460.8,348.5 461.1,347.5 461.4,346.5 461.7,345.5 462.0,344.5 462.3,343.5 462.6,342.5 462.9,341.5 463.2,340.5 463.5,339.5 463.8,338.5 464.1,337.5 464.4,336.5 464.7,335.5 464.9,334.5 465.2,333.5 465.5,332.5 465.8,331.5 466.0,330.5 466.3,329.5 466.5,328.5 466.8,327.5 467.0,326.5 467.2,325.5 467.4,324.5 467.6,323.5 467.9,322.5 468.1,321.5 468.3,320.5 468.5,319.5 468.7,318.5 468.9,317.5 469.1,316.5 469.3,315.5 469.5,314.5 469.6,313.5 469.8,312.5 470.0,311.5 470.2,310.5 470.3,309.5 470.5,308.5 470.6,307.5 470.7,306.5 470.9,305.5 471.0,304.5 471.1,303.5 471.2,302.5 471.3,301.5 471.3,300.5 471.4,299.5 471.5,298.5 471.6,297.5 471.7,296.5 471.7,295.5 471.8,294.5 471.8,293.5 471.8,292.5 471.8,291.5 471.8,290.5 471.8,289.5 471.7,288.5 471.7,287.5 471.7,286.5 471.6,285.5 471.6,284.5 471.6,283.5 471.5,282.5 471.5,281.5 471.4,280.5 471.3,279.5 471.2,278.5 471.1,277.5 471.0,276.5 470.8,275.5 470.7,274.5 470.5,273.5 470.3,272.5 470.2,271.5 470.0,270.5 469.7,269.5 469.5,268.5 469.3,267.5 469.1,266.5 468.8,265.5 468.6,264.5 468.3,263.5 468.1,262.5 467.8,261.5 467.6,260.5 467.2,259.5 466.9,258.5 466.5,257.5 466.1,256.5 465.7,255.5 465.2,254.5 464.8,253.5 464.4,252.5 464.0,251.5 463.5,250.5 463.1,249.5 462.6,248.5 462.2,247.5 461.7,246.5 461.3,245.5 460.8,244.5 460.3,243.5 459.9,242.5 459.4,241.5 458.9,240.5 458.4,239.5 458.0,238.5 457.5,237.5 457.0,236.5 456.5,235.5 456.0,234.5 455.5,233.5 455.0,232.5 454.5,231.5 454.0,230.5 453.5,229.5 453.0,228.5 452.4,227.5 451.9,226.5 451.4,225.5 450.9,224.5 450.4,223.5 449.9,222.5 449.4,221.5 448.9,220.5 448.4,219.5 447.9,218.5 447.4,217.5 446.9,216.5 446.3,215.5 445.8,214.5 445.3,213.5 444.8,212.5 444.3,211.5 443.7,210.5 443.2,209.5 442.7,208.5 442.2,207.5 441.7,206.5 441.2,205.5 440.7,204.5 440.1,203.5 439.7,202.5 439.2,201.5 438.7,200.5 438.2,199.5 437.7,198.5 437.2,197.5 436.7,196.5 436.3,195.5 435.8,194.5 435.3,193.5 434.8,192.5 434.4,191.5 433.9,190.5 433.4,189.5 433.0,188.5 432.5,187.5 432.1,186.5 431.6,185.5 431.1,184.5 430.7,183.5 430.2,182.5 429.8,181.5 429.4,180.5 428.9,179.5 428.5,178.5 428.0,177.5 427.6,176.5 427.1,175.5 426.7,174.5 426.3,173.5 425.8,172.5 425.4,171.5 424.9,170.5 424.5,169.5 424.1,168.5 423.7,167.5 423.3,166.5 422.9,165.5 422.5,164.5 422.1,163.5 421.7,162.5 421.4,161.5 421.0,160.5 420.6,159.5 420.3,158.5 419.9,157.5 419.6,156.5 419.3,155.5 418.9,154.5 418.6,153.5 418.3,152.5 417.9,151.5 417.6,150.5 417.3,149.5 417.0,148.5 416.7,147.5 416.4,146.5 416.1,145.5 415.8,144.5 415.6,143.5 415.4,142.5 415.1,141.5 414.9,140.5 414.7,139.5 414.5,138.5 414.3,137.5 414.1,136.5 413.9,135.5 413.7,134.5 413.4,133.5 413.2,132.5 413.0,131.5 412.7,130.5 412.5,129.5 412.3,128.5 412.0,127.5 411.8,126.5 411.6,125.5 411.4,124.5 411.2,123.5 411.0,122.5 410.7,121.5 410.5,120.5 410.3,119.5 410.1,118.5 409.9,117.5 409.8,116.5 409.6,115.5 409.4,114.5 409.2,113.5 409.1,112.5 408.9,111.5 408.8,110.5 408.7,109.5 408.5,108.5 408.4,107.5 408.3,106.5 408.2,105.5 408.0,104.5 407.9,103.5 407.8,102.5 407.7,101.5 407.5,100.5 407.4,99.5 407.3,98.5 407.1,97.5 407.0,96.5 406.9,95.5 406.8,94.5 406.7,93.5 406.6,92.5 406.6,91.5 406.5,90.5 406.4,89.5 406.4,88.5 406.3,87.5 406.3,86.5 406.2,85.5 406.2,84.5 406.2,83.5 406.1,82.5 406.1,81.5 406.1,80.5 406.1,79.5 406.0,78.5 406.0,77.5 406.0,76.5 406.0,75.5 406.0,74.5 405.9,73.5 405.9,72.5 405.9,71.5 405.9,70.5 405.9,69.5 405.9,68.5 405.8,67.5 405.8,66.5 405.8,65.5 405.8,64.5 405.8,63.5 405.8,62.5 405.8,61.5 405.8,60.5 405.8,59.5Z"/>
<path d="M614.9,39.5 614.9,40.5 614.9,41.5 614.9,42.5 614.9,43.5 614.9,44.5 614.9,45.5 614.9,46.5 614.9,47.5 614.9,48.5 614.9,49.5 614.9,50.5 614.8,51.5 614.8,52.5 614.8,53.5 614.8,54.5 614.8,55.5 614.8,56.5 614.8,57.5 614.8,58.5 614.8,59.5 614.8,60.5 614.7,61.5 614.7,62.5 614.7,63.5 614.7,64.5 614.7,65.5 614.7,66.5 614.7,67.5 614.7,68.5 614.6,69.5 614.6,70.5 614.6,71.5 614.6,72.5 614.6,73.5 614.6,74.5 614.5,75.5 614.5,76.5 614.5,77.5 614.5,78.5 614.4,79.5 614.4,80.5 614.4,81.5 614.3,82.5 614.3,83.5 614.3,84.5 614.2,85.5 614.2,86.5 614.1,87.5 614.1,88.5 614.1,89.5 614.0,90.5 614.0,91.5 613.9,92.5 613.9,93.5 613.8,94.5 613.8,95.5 613.8,96.5 613.7,97.5 613.7,98.5 613.6,99.5 613.6,100.5 613.5,101.5 613.5,102.5 613.4,103.5 613.3,104.5 613.3,105.5 613.2,106.5 613.2,107.5 613.1,108.5 613.0,109.5 613.0,110.5 612.9,111.5 612.8,112.5 612.8,113.5 612.7,114.5 612.6,115.5 612.5,116.5 612.4,117.5 612.3,118.5 612.2,119.5 612.1,120.5 612.0,121.5 611.9,122.5 611.8,123.5 611.7,124.5 611.6,125.5 611.5,126.5 611.4,127.5 611.3,128.5 611.2,129.5 611.1,130.5 610.9,131.5 610.8,132.5 610.7,133.5 610.6,134.5 610.5,135.5 610.4,136.5 610.3,137.5 610.1,138.5 610.0,139.5 609.9,140.5 609.8,141.5 609.7,142.5 609.6,143.5 609.4,144.5 609.3,145.5 609.2,146.5 609.1,147.5 608.9,148.5 608.8,149.5 608.7,150.5 608.6,151.5 608.4,152.5 608.3,153.5 608.2,154.5 608.0,155.5 607.9,156.5 607.7,157.5 607.6,158.5 607.4,159.5 607.3,160.5 607.1,161.5 607.0,162.5 606.8,163.5 606.6,164.5 606.5,165.5 606.3,166.5 606.1,167.5 606.0,168.5 605.8,169.5 605.6,170.5 605.4,171.5 605.3,172.5 605.1,173.5 604.9,174.5 604.7,175.5 604.6,176.5 604.4,177.5 604.2,178.5 604.0,179.5 603.8,180.5 603.7,181.5 603.5,182.5 603.3,183.5 603.1,184.5 602.9,185.5 602.7,186.5 602.5,187.5 602.3,188.5 602.1,189.5 601.9,190.5 601.7,191.5 601.5,192.5 601.3,193.5 601.1,194.5 601.0,195.5 600.8,196.5 600.6,197.5 600.4,198.5 600.2,199.5 600.0,200.5 599.8,201.5 599.6,202.5 599.4,203.5 599.2,204.5 599.0,205.5 598.9,206.5 598.7,207.5 598.5,208.5 598.3,209.5 598.1,210.5 597.9,211.5 597.7,212.5 597.5,213.5 597.3,214.5 597.2,215.5 597.0,216.5 596.8,217.5 596.6,218.5 596.4,219.5 596.2,220.5 596.0,221.5 595.9,222.5 595.7,223.5 595.5,224.5 595.3,225.5 595.1,226.5 594.9,227.5 594.8,228.5 594.6,229.5 594.4,230.5 594.2,231.5 594.1,232.5 593.9,233.5 593.7,234.5 593.6,235.5 593.4,236.5 593.2,237.5 593.1,238.5 592.9,239.5 592.8,240.5 592.7,241.5 592.5,242.5 592.4,243.5 592.3,244.5 592.2,245.5 592.1,246.5 591.9,247.5 591.8,248.5 591.7,249.5 591.6,250.5 591.5,251.5 591.4,252.5 591.3,253.5 591.2,254.5 591.1,255.5 591.0,256.5 590.9,257.5 590.8,258.5 590.7,259.5 590.6,260.5 590.5,261.5 590.4,262.5 590.3,263.5 590.2,264.5 590.1,265.5 590.0,266.5 590.0,267.5 589.9,268.5 589.8,269.5 589.7,270.5 589.6,271.5 589.5,272.5 589.5,273.5 589.4,274.5 589.3,275.5 589.2,276.5 589.1,277.5 589.1,278.5 589.0,279.5 588.9,280.5 588.8,281.5 588.8,282.5 588.7,283.5 588.6,284.5 588.6,285.5 588.5,286.5 588.4,287.5 588.4,288.5 588.3,289.5 588.2,290.5 588.2,291.5 588.1,292.5 588.0,293.5 588.0,294.5 587.9,295.5 587.9,296.5 587.8,297.5 587.8,298.5 587.7,299.5 587.7,300.5 587.6,301.5 587.6,302.5 587.5,303.5 587.5,304.5 587.4,305.5 587.3,306.5 587.3,307.5 587.2,308.5 587.1,309.5 587.1,310.5 587.0,311.5 586.9,312.5 586.7,313.5 586.6,314.5 586.5,315.5 586.4,316.5 586.2,317.5 586.1,318.5 586.0,319.5 585.8,320.5 585.7,321.5 585.6,322.5 585.5,323.5 585.5,324.5 585.4,325.5 585.3,326.5 585.3,327.5 585.2,328.5 585.2,329.5 585.1,330.5 585.1,331.5 585.0,332.5 585.0,333.5 585.0,334.5 584.9,335.5 584.9,336.5 584.9,337.5 584.8,338.5 584.8,339.5 584.8,340.5 584.7,341.5 584.7,342.5 584.7,343.5 584.6,344.5 584.6,345.5 584.6,346.5 584.6,347.5 584.5,348.5 584.5,349.5 584.5,350.5 584.5,351.5 584.5,352.5 584.4,353.5 584.4,354.5 584.4,355.5 584.4,356.5 584.3,357.5 584.3,358.5 584.3,359.5 584.3,360.5 584.3,361.5 584.2,362.5 584.2,363.5 584.2,364.5 584.2,365.5 584.2,366.5 584.2,367.5 584.1,368.5 584.1,369.5 584.1,370.5 584.1,371.5 584.1,372.5 584.1,373.5 584.1,374.5 584.1,375.5 584.1,376.5 584.1,377.5 584.1,378.5 584.1,379.5 584.1,380.5 584.1,381.5 584.2,382.5 584.2,383.5 584.2,384.5 584.2,385.5 584.2,386.5 584.2,387.5 584.3,388.5 584.3,389.5 584.3,390.5 584.3,391.5 584.3,392.5 584.4,393.5 584.4,394.5 584.4,395.5 584.4,396.5 584.4,397.5 584.5,398.5 584.5,399.5 584.5,400.5 584.5,401.5 584.5,402.5 584.5,403.5 584.5,404.5 584.6,405.5 584.6,406.5 584.6,407.5 584.6,408.5 584.6,409.5 584.6,410.5 584.6,411.5 584.7,412.5 584.7,413.5 584.7,414.5 584.7,415.5 584.7,416.5 584.7,417.5 584.7,418.5 584.7,419.5 584.7,420.5 584.7,421.5 584.6,422.5 584.5,423.5 584.4,424.5 584.2,425.5 584.1,426.5 583.9,427.5 583.7,428.5 583.5,429.5 583.3,430.5 583.1,431.5 582.9,432.5 582.7,433.5 582.5,434.5 582.4,435.5 582.2,436.5 582.0,437.5 581.9,438.5 581.7,439.5 581.5,440.5 581.3,441.5 581.2,442.5 581.0,443.5 580.8,444.5 580.6,445.5 580.4,446.5 580.3,447.5 580.1,448.5 579.9,449.5 579.7,450.5 579.5,451.5 579.4,452.5 579.2,453.5 579.0,454.5 578.9,455.5 578.7,456.5 578.5,457.5 578.4,458.5 578.2,459.5 578.1,460.5 578.0,461.5 577.8,462.5 577.7,463.5 577.5,464.5 577.4,465.5 577.2,466.5 577.1,467.5 576.9,468.5 576.8,469.5 576.6,470.5 576.5,471.5 576.3,472.5 576.2,473.5 576.1,474.5 575.9,475.5 575.8,476.5 575.7,477.5 575.6,478.5 575.5,479.5 575.4,480.5 575.3,481.5 575.3,482.5 575.2,483.5 575.1,484.5 575.1,485.5 575.1,486.5 575.1,487.5 575.0,488.5 575.0,489.5 575.0,490.5 575.0,491.5 575.0,492.5 574.9,493.5 574.9,494.5 574.9,495.5 574.9,496.5 574.9,497.5 574.9,498.5 574.9,499.5 574.9,500.5 575.0,501.5 575.1,502.5 575.1,503.5 575.2,504.5 575.3,505.5 575.4,506.5 575.5,507.5 575.6,508.5 575.7,509.5 575.8,510.5 576.0,511.5 576.1,512.5 576.2,513.5 576.4,514.5 576.5,515.5 576.7,516.5 576.9,517.5 577.0,518.5 577.2,519.5 577.4,520.5 577.6,521.5 577.8,522.5 578.0,523.5 578.2,524.5 578.4,525.5 578.6,526.5 578.8,527.5 578.9,528.5 579.1,529.5 579.3,530.5 579.4,531.5 579.6,532.5 579.8,533.5 579.9,534.5 580.1,535.5 580.3,536.5 580.4,537.5 580.6,538.5 580.7,539.5 580.9,540.5 581.0,541.5 581.2,542.5 581.3,543.5 581.5,544.5 581.6,545.5 581.8,546.5 581.9,547.5 582.1,548.5 582.2,549.5 582.3,550.5 582.5,551.5 582.6,552.5 582.8,553.5 582.9,554.5 583.0,555.5 583.2,556.5 583.3,557.5 583.5,558.5 583.6,559.5 583.7,560.5 583.8,561.5 584.0,562.5 584.1,563.5 584.2,564.5 584.4,565.5 584.5,566.5 584.6,567.5 584.8,568.5 584.9,569.5 585.0,570.5 585.1,571.5 585.2,572.5 585.4,573.5 585.5,574.5 585.6,575.5 585.7,576.5 585.8,577.5 586.0,578.5 586.1,579.5 586.2,580.5 586.3,581.5 586.4,582.5 586.5,583.5 586.7,584.5 586.8,585.5 586.9,586.5 587.0,587.5 587.1,588.5 587.2,589.5 587.3,590.5 587.4,591.5 587.5,592.5 587.7,593.5 587.8,594.5 587.9,595.5 588.0,596.5 588.1,597.5 588.2,598.5 588.3,599.5 588.4,600.5 588.5,601.5 588.6,602.5 588.7,603.5 588.8,604.5 588.9,605.5 589.0,606.5 589.1,607.5 589.2,608.5 589.3,609.5 589.4,610.5 589.5,611.5 589.6,612.5 589.7,613.5 589.8,614.5 589.9,615.5 590.0,616.5 590.1,617.5 590.2,618.5 590.3,619.5 590.4,620.5 590.4,621.5 590.5,622.5 590.6,623.5 590.7,624.5 590.8,625.5 590.9,626.5 591.0,627.5 591.1,628.5 591.2,629.5 591.3,630.5 591.4,631.5 591.5,632.5 591.6,633.5 591.7,634.5 591.8,635.5 591.9,636.5 592.0,637.5 592.1,638.5 592.2,639.5 592.4,640.5 592.5,641.5 592.6,642.5 592.7,643.5 592.9,644.5 593.0,645.5 593.2,646.5 593.3,647.5 593.5,648.5 593.6,649.5 593.8,650.5 593.9,651.5 594.1,652.5 594.2,653.5 594.4,654.5 594.5,655.5 594.7,656.5 594.8,657.5 595.0,658.5 595.1,659.5 595.3,660.5 595.5,661.5 595.6,662.5 595.8,663.5 595.9,664.5 596.1,665.5 596.2,666.5 596.4,667.5 596.6,668.5 596.7,669.5 596.9,670.5 597.0,671.5 597.2,672.5 597.4,673.5 597.5,674.5 597.7,675.5 597.9,676.5 598.0,677.5 598.2,678.5 598.3,679.5 598.5,680.5 598.7,681.5 598.8,682.5 599.0,683.5 599.2,684.5 599.3,685.5 599.5,686.5 599.7,687.5 599.8,688.5 600.0,689.5 600.2,690.5 600.3,691.5 600.5,692.5 600.7,693.5 600.8,694.5 601.0,695.5 601.2,696.5 601.4,697.5 601.5,698.5 601.7,699.5 601.9,700.5 602.0,701.5 602.2,702.5 602.3,703.5 602.5,704.5 602.7,705.5 602.8,706.5 603.0,707.5 603.1,708.5 603.3,709.5 603.4,710.5 603.6,711.5 603.7,712.5 603.9,713.5 604.0,714.5 604.2,715.5 604.3,716.5 604.5,717.5 604.6,718.5 604.8,719.5 604.9,720.5 605.1,721.5 605.2,722.5 605.3,723.5 605.5,724.5 605.6,725.5 605.8,726.5 605.9,727.5 606.1,728.5 606.2,729.5 606.3,730.5 606.5,731.5 606.6,732.5 606.7,733.5 606.9,734.5 607.0,735.5 607.1,736.5 607.3,737.5 607.4,738.5 607.5,739.5 607.6,740.5 607.8,741.5 607.9,742.5 608.0,743.5 608.1,744.5 608.3,745.5 608.4,746.5 608.5,747.5 608.6,748.5 608.8,749.5 608.9,750.5 609.0,751.5 609.2,752.5 609.3,753.5 609.5,754.5 609.6,755.5 609.8,756.5 609.9,757.5 610.1,758.5 610.2,759.5 610.4,760.5 610.5,761.5 610.7,762.5 610.8,763.5 611.0,764.5 611.1,765.5 611.3,766.5 611.4,767.5 611.6,768.5 611.7,769.5 611.9,770.5 612.0,771.5 612.2,772.5 612.3,773.5 612.4,774.5 612.6,775.5 612.7,776.5 612.8,777.5 612.9,778.5 612.9,779.5 613.0,780.5 613.1,781.5 613.1,782.5 613.2,783.5 613.3,784.5 613.3,785.5 613.4,786.5 613.4,787.5 613.5,788.5 613.5,789.5 613.6,790.5 613.7,791.5 613.7,792.5 613.8,793.5 613.8,794.5 613.9,795.5 614.0,796.5 614.0,797.5 614.1,798.5 614.1,799.5 614.2,800.5 614.2,801.5 614.3,802.5 614.3,803.5 614.3,804.5 614.4,805.5 614.4,806.5 614.4,807.5 614.5,808.5 614.5,809.5 614.5,810.5 614.5,811.5 614.5,812.5 614.6,813.5 614.6,814.5 614.6,815.5 614.6,816.5 614.6,817.5 614.6,818.5 614.7,819.5 614.7,820.5 614.7,821.5 614.7,822.5 614.7,823.5 614.7,824.5 614.7,825.5 614.8,826.5 614.8,827.5 614.8,828.5 614.8,829.5 614.8,830.5 614.8,831.5 614.8,832.5 614.8,833.5 614.8,834.5 614.9,835.5 614.9,836.5 614.9,837.5 614.9,838.5 614.9,839.5 614.9,840.5 614.9,841.5 614.9,842.5 614.9,843.5 614.9,844.2 614.9,844.2 614.9,843.5 614.9,842.5 614.9,841.5 614.9,840.5 614.9,839.5 614.9,838.5 614.9,837.5 614.9,836.5 614.9,835.5 615.0,834.5 615.0,833.5 615.0,832.5 615.0,831.5 615.0,830.5 615.0,829.5 615.0,828.5 615.0,827.5 615.0,826.5 615.1,825.5 615.1,824.5 615.1,823.5 615.1,822.5 615.1,821.5 615.1,820.5 615.1,819.5 615.2,818.5 615.2,817.5 615.2,816.5 615.2,815.5 615.2,814.5 615.2,813.5 615.3,812.5 615.3,811.5 615.3,810.5 615.3,809.5 615.3,808.5 615.4,807.5 615.4,806.5 615.4,805.5 615.5,804.5 615.5,803.5 615.5,802.5 615.6,801.5 615.6,800.5 615.7,799.5 615.7,798.5 615.8,797.5 615.8,796.5 615.9,795.5 616.0,794.5 616.0,793.5 616.1,792.5 616.1,791.5 616.2,790.5 616.3,789.5 616.3,788.5 616.4,787.5 616.4,786.5 616.5,785.5 616.5,784.5 616.6,783.5 616.7,782.5 616.7,781.5 616.8,780.5 616.9,779.5 616.9,778.5 617.0,777.5 617.1,776.5 617.2,775.5 617.4,774.5 617.5,773.5 617.6,772.5 617.8,771.5 617.9,770.5 618.1,769.5 618.2,768.5 618.4,767.5 618.5,766.5 618.7,765.5 618.8,764.5 619.0,763.5 619.1,762.5 619.3,761.5 619.4,760.5 619.6,759.5 619.7,758.5 619.9,757.5 620.0,756.5 620.2,755.5 620.3,754.5 620.5,753.5 620.6,752.5 620.8,751.5 620.9,750.5 621.0,749.5 621.2,748.5 621.3,747.5 621.4,746.5 621.5,745.5 621.7,744.5 621.8,743.5 621.9,742.5 622.0,741.5 622.2,740.5 622.3,739.5 622.4,738.5 622.5,737.5 622.7,736.5 622.8,735.5 622.9,734.5 623.1,733.5 623.2,732.5 623.3,731.5 623.5,730.5 623.6,729.5 623.7,728.5 623.9,727.5 624.0,726.5 624.2,725.5 624.3,724.5 624.5,723.5 624.6,722.5 624.7,721.5 624.9,720.5 625.0,719.5 625.2,718.5 625.3,717.5 625.5,716.5 625.6,715.5 625.8,714.5 625.9,713.5 626.1,712.5 626.2,711.5 626.4,710.5 626.5,709.5 626.7,708.5 626.8,707.5 627.0,706.5 627.1,705.5 627.3,704.5 627.5,703.5 627.6,702.5 627.8,701.5 627.9,700.5 628.1,699.5 628.3,698.5 628.4,697.5 628.6,696.5 628.8,695.5 629.0,694.5 629.1,693.5 629.3,692.5 629.5,691.5 629.6,690.5 629.8,689.5 630.0,688.5 630.1,687.5 630.3,686.5 630.5,685.5 630.6,684.5 630.8,683.5 631.0,682.5 631.1,681.5 631.3,680.5 631.5,679.5 631.6,678.5 631.8,677.5 631.9,676.5 632.1,675.5 632.3,674.5 632.4,673.5 632.6,672.5 632.8,671.5 632.9,670.5 633.1,669.5 633.2,668.5 633.4,667.5 633.6,666.5 633.7,665.5 633.9,664.5 634.0,663.5 634.2,662.5 634.3,661.5 634.5,660.5 634.7,659.5 634.8,658.5 635.0,657.5 635.1,656.5 635.3,655.5 635.4,654.5 635.6,653.5 635.7,652.5 635.9,651.5 636.0,650.5 636.2,649.5 636.3,648.5 636.5,647.5 636.6,646.5 636.8,645.5 636.9,644.5 637.1,643.5 637.2,642.5 637.3,641.5 637.4,640.5 637.6,639.5 637.7,638.5 637.8,637.5 637.9,636.5 638.0,635.5 638.1,634.5 638.2,633.5 638.3,632.5 638.4,631.5 638.5,630.5 638.6,629.5 638.7,628.5 638.8,627.5 638.9,626.5 639.0,625.5 639.1,624.5 639.2,623.5 639.3,622.5 639.4,621.5 639.4,620.5 639.5,619.5 639.6,618.5 639.7,617.5 639.8,616.5 639.9,615.5 640.0,614.5 640.1,613.5 640.2,612.5 640.3,611.5 640.4,610.5 640.5,609.5 640.6,608.5 640.7,607.5 640.8,606.5 640.9,605.5 641.0,604.5 641.1,603.5 641.2,602.5 641.3,601.5 641.4,600.5 641.5,599.5 641.6,598.5 641.7,597.5 641.8,596.5 641.9,595.5 642.0,594.5 642.1,593.5 642.3,592.5 642.4,591.5 642.5,590.5 642.6,589.5 642.7,588.5 642.8,587.5 642.9,586.5 643.0,585.5 643.1,584.5 643.3,583.5 643.4,582.5 643.5,581.5 643.6,580.5 643.7,579.5 643.8,578.5 644.0,577.5 644.1,576.5 644.2,575.5 644.3,574.5 644.4,573.5 644.6,572.5 644.7,571.5 644.8,570.5 644.9,569.5 645.0,568.5 645.2,567.5 645.3,566.5 645.4,565.5 645.6,564.5 645.7,563.5 645.8,562.5 646.0,561.5 646.1,560.5 646.2,559.5 646.3,558.5 646.5,557.5 646.6,556.5 646.8,555.5 646.9,554.5 647.0,553.5 647.2,552.5 647.3,551.5 647.5,550.5 647.6,549.5 647.7,548.5 647.9,547.5 648.0,546.5 648.2,545.5 648.3,544.5 648.5,543.5 648.6,542.5 648.8,541.5 648.9,540.5 649.1,539.5 649.2,538.5 649.4,537.5 649.5,536.5 649.7,535.5 649.9,534.5 650.0,533.5 650.2,532.5 650.4,531.5 650.5,530.5 650.7,529.5 650.9,528.5 651.0,527.5 651.2,526.5 651.4,525.5 651.6,524.5 651.8,523.5 652.0,522.5 652.2,521.5 652.4,520.5 652.6,519.5 652.8,518.5 652.9,517.5 653.1,516.5 653.3,515.5 653.4,514.5 653.6,513.5 653.7,512.5 653.8,511.5 654.0,510.5 654.1,509.5 654.2,508.5 654.3,507.5 654.4,506.5 654.5,505.5 654.6,504.5 654.7,503.5 654.7,502.5 654.8,501.5 654.9,500.5 654.9,499.5 654.9,498.5 654.9,497.5 654.9,496.5 654.9,495.5 654.9,494.5 654.9,493.5 654.8,492.5 654.8,491.5 654.8,490.5 654.8,489.5 654.8,488.5 654.7,487.5 654.7,486.5 654.7,485.5 654.7,484.5 654.6,483.5 654.5,482.5 654.5,481.5 654.4,480.5 654.3,479.5 654.2,478.5 654.1,477.5 654.0,476.5 653.9,475.5 653.7,474.5 653.6,473.5 653.5,472.5 653.3,471.5 653.2,470.5 653.0,469.5 652.9,468.5 652.7,467.5 652.6,466.5 652.4,465.5 652.3,464.5 652.1,463.5 652.0,462.5 651.8,461.5 651.7,460.5 651.6,459.5 651.4,458.5 651.3,457.5 651.1,456.5 650.9,455.5 650.8,454.5 650.6,453.5 650.4,452.5 650.3,451.5 650.1,450.5 649.9,449.5 649.7,448.5 649.5,447.5 649.4,446.5 649.2,445.5 649.0,444.5 648.8,443.5 648.6,442.5 648.5,441.5 648.3,440.5 648.1,439.5 647.9,438.5 647.8,437.5 647.6,436.5 647.4,435.5 647.3,434.5 647.1,433.5 646.9,432.5 646.7,431.5 646.5,430.5 646.3,429.5 646.1,428.5 645.9,427.5 645.7,426.5 645.6,425.5 645.4,424.5 645.3,423.5 645.2,422.5 645.1,421.5 645.1,420.5 645.1,419.5 645.1,418.5 645.1,417.5 645.1,416.5 645.1,415.5 645.1,414.5 645.1,413.5 645.1,412.5 645.2,411.5 645.2,410.5 645.2,409.5 645.2,408.5 645.2,407.5 645.2,406.5 645.2,405.5 645.3,404.5 645.3,403.5 645.3,402.5 645.3,401.5 645.3,400.5 645.3,399.5 645.3,398.5 645.4,397.5 645.4,396.5 645.4,395.5 645.4,394.5 645.4,393.5 645.5,392.5 645.5,391.5 645.5,390.5 645.5,389.5 645.5,388.5 645.6,387.5 645.6,386.5 645.6,385.5 645.6,384.5 645.6,383.5 645.6,382.5 645.7,381.5 645.7,380.5 645.7,379.5 645.7,378.5 645.7,377.5 645.7,376.5 645.7,375.5 645.7,374.5 645.7,373.5 645.7,372.5 645.7,371.5 645.7,370.5 645.7,369.5 645.7,368.5 645.6,367.5 645.6,366.5 645.6,365.5 645.6,364.5 645.6,363.5 645.6,362.5 645.5,361.5 645.5,360.5 645.5,359.5 645.5,358.5 645.5,357.5 645.4,356.5 645.4,355.5 645.4,354.5 645.4,353.5 645.3,352.5 645.3,351.5 645.3,350.5 645.3,349.5 645.3,348.5 645.2,347.5 645.2,346.5 645.2,345.5 645.2,344.5 645.1,343.5 645.1,342.5 645.1,341.5 645.0,340.5 645.0,339.5 645.0,338.5 644.9,337.5 644.9,336.5 644.9,335.5 644.8,334.5 644.8,333.5 644.8,332.5 644.7,331.5 644.7,330.5 644.6,329.5 644.6,328.5 644.5,327.5 644.5,326.5 644.4,325.5 644.3,324.5 644.3,323.5 644.2,322.5 644.1,321.5 644.0,320.5 643.8,319.5 643.7,318.5 643.6,317.5 643.4,316.5 643.3,315.5 643.2,314.5 643.1,313.5 642.9,312.5 642.8,311.5 642.7,310.5 642.7,309.5 642.6,308.5 642.5,307.5 642.5,306.5 642.4,305.5 642.3,304.5 642.3,303.5 642.2,302.5 642.2,301.5 642.1,300.5 642.1,299.5 642.0,298.5 642.0,297.5 641.9,296.5 641.9,295.5 641.8,294.5 641.8,293.5 641.7,292.5 641.6,291.5 641.6,290.5 641.5,289.5 641.4,288.5 641.4,287.5 641.3,286.5 641.2,285.5 641.2,284.5 641.1,283.5 641.0,282.5 641.0,281.5 640.9,280.5 640.8,279.5 640.7,278.5 640.7,277.5 640.6,276.5 640.5,275.5 640.4,274.5 640.3,273.5 640.3,272.5 640.2,271.5 640.1,270.5 640.0,269.5 639.9,268.5 639.8,267.5 639.8,266.5 639.7,265.5 639.6,264.5 639.5,263.5 639.4,262.5 639.3,261.5 639.2,260.5 639.1,259.5 639.0,258.5 638.9,257.5 638.8,256.5 638.7,255.5 638.6,254.5 638.5,253.5 638.4,252.5 638.3,251.5 638.2,250.5 638.1,249.5 638.0,248.5 637.9,247.5 637.7,246.5 637.6,245.5 637.5,244.5 637.4,243.5 637.3,242.5 637.1,241.5 637.0,240.5 636.9,239.5 636.7,238.5 636.6,237.5 636.4,236.5 636.2,235.5 636.1,234.5 635.9,233.5 635.7,232.5 635.6,231.5 635.4,230.5 635.2,229.5 635.0,228.5 634.9,227.5 634.7,226.5 634.5,225.5 634.3,224.5 634.1,223.5 633.9,222.5 633.8,221.5 633.6,220.5 633.4,219.5 633.2,218.5 633.0,217.5 632.8,216.5 632.6,215.5 632.5,214.5 632.3,213.5 632.1,212.5 631.9,211.5 631.7,210.5 631.5,209.5 631.3,208.5 631.1,207.5 630.9,206.5 630.8,205.5 630.6,204.5 630.4,203.5 630.2,202.5 630.0,201.5 629.8,200.5 629.6,199.5 629.4,198.5 629.2,197.5 629.0,196.5 628.8,195.5 628.7,194.5 628.5,193.5 628.3,192.5 628.1,191.5 627.9,190.5 627.7,189.5 627.5,188.5 627.3,187.5 627.1,186.5 626.9,185.5 626.7,184.5 626.5,183.5 626.3,182.5 626.1,181.5 626.0,180.5 625.8,179.5 625.6,178.5 625.4,177.5 625.2,176.5 625.1,175.5 624.9,174.5 624.7,173.5 624.5,172.5 624.4,171.5 624.2,170.5 624.0,169.5 623.8,168.5 623.7,167.5 623.5,166.5 623.3,165.5 623.2,164.5 623.0,163.5 622.8,162.5 622.7,161.5 622.5,160.5 622.4,159.5 622.2,158.5 622.1,157.5 621.9,156.5 621.8,155.5 621.6,154.5 621.5,153.5 621.4,152.5 621.2,151.5 621.1,150.5 621.0,149.5 620.9,148.5 620.7,147.5 620.6,146.5 620.5,145.5 620.4,144.5 620.2,143.5 620.1,142.5 620.0,141.5 619.9,140.5 619.8,139.5 619.7,138.5 619.5,137.5 619.4,136.5 619.3,135.5 619.2,134.5 619.1,133.5 619.0,132.5 618.9,131.5 618.7,130.5 618.6,129.5 618.5,128.5 618.4,127.5 618.3,126.5 618.2,125.5 618.1,124.5 618.0,123.5 617.9,122.5 617.8,121.5 617.7,120.5 617.6,119.5 617.5,118.5 617.4,117.5 617.3,116.5 617.2,115.5 617.1,114.5 617.0,113.5 617.0,112.5 616.9,111.5 616.8,110.5 616.8,109.5 616.7,108.5 616.6,107.5 616.6,106.5 616.5,105.5 616.5,104.5 616.4,103.5 616.3,102.5 616.3,101.5 616.2,100.5 616.2,99.5 616.1,98.5 616.1,97.5 616.0,96.5 616.0,95.5 616.0,94.5 615.9,93.5 615.9,92.5 615.8,91.5 615.8,90.5 615.7,89.5 615.7,88.5 615.7,87.5 615.6,86.5 615.6,85.5 615.5,84.5 615.5,83.5 615.5,82.5 615.4,81.5 615.4,80.5 615.4,79.5 615.3,78.5 615.3,77.5 615.3,76.5 615.3,75.5 615.2,74.5 615.2,73.5 615.2,72.5 615.2,71.5 615.2,70.5 615.2,69.5 615.1,68.5 615.1,67.5 615.1,66.5 615.1,65.5 615.1,64.5 615.1,63.5 615.1,62.5 615.1,61.5 615.0,60.5 615.0,59.5 615.0,58.5 615.0,57.5 615.0,56.5 615.0,55.5 615.0,54.5 615.0,53.5 615.0,52.5 615.0,51.5 614.9,50.5 614.9,49.5 614.9,48.5 614.9,47.5 614.9,46.5 614.9,45.5 614.9,44.5 614.9,43.5 614.9,42.5 614.9,41.5 614.9,40.5 614.9,39.5Z"/>
<path d="M823.9,182.6 823.9,183.6 823.8,184.6 823.8,185.6 823.7,186.6 823.7,187.6 823.7,188.6 823.6,189.6 823.6,190.6 823.6,191.6 823.6,192.6 823.5,193.6 823.5,194.6 823.5,195.6 823.5,196.6 823.4,197.6 823.4,198.6 823.4,199.6 823.4,200.6 823.4,201.6 823.3,202.6 823.3,203.6 823.3,204.6 823.3,205.6 823.3,206.6 823.2,207.6 823.2,208.6 823.2,209.6 823.1,210.6 823.1,211.6 823.1,212.6 823.0,213.6 823.0,214.6 822.9,215.6 822.9,216.6 822.8,217.6 822.7,218.6 822.7,219.6 822.6,220.6 822.5,221.6 822.4,222.6 822.4,223.6 822.3,224.6 822.2,225.6 822.1,226.6 822.1,227.6 822.0,228.6 821.9,229.6 821.8,230.6 821.8,231.6 821.7,232.6 821.7,233.6 821.6,234.6 821.6,235.6 821.5,236.6 821.5,237.6 821.4,238.6 821.4,239.6 821.3,240.6 821.3,241.6 821.2,242.6 821.2,243.6 821.1,244.6 821.1,245.6 821.1,246.6 821.0,247.6 821.0,248.6 821.0,249.6 820.9,250.6 820.9,251.6 820.9,252.6 820.9,253.6 820.9,254.6 820.9,255.6 820.9,256.6 820.9,257.6 820.9,258.6 821.0,259.6 821.0,260.6 821.0,261.6 821.0,262.6 821.1,263.6 821.1,264.6 821.1,265.6 821.2,266.6 821.2,267.6 821.2,268.6 821.3,269.6 821.3,270.6 821.4,271.6 821.4,272.6 821.4,273.6 821.5,274.6 821.5,275.6 821.6,276.6 821.6,277.6 821.7,278.6 821.7,279.6 821.8,280.6 821.9,281.6 821.9,282.6 822.0,283.6 822.1,284.6 822.1,285.6 822.2,286.6 822.3,287.6 822.3,288.6 822.4,289.6 822.4,290.6 822.5,291.6 822.5,292.6 822.6,293.6 822.6,294.6 822.7,295.6 822.7,296.6 822.8,297.6 822.8,298.6 822.8,299.6 822.8,300.6 822.8,301.6 822.7,302.6 822.7,303.6 822.6,304.6 822.5,305.6 822.4,306.6 822.3,307.6 822.2,308.6 822.1,309.6 821.9,310.6 821.8,311.6 821.6,312.6 821.4,313.6 821.3,314.6 821.1,315.6 821.0,316.6 820.9,317.6 820.7,318.6 820.6,319.6 820.5,320.6 820.3,321.6 820.2,322.6 820.1,323.6 819.9,324.6 819.8,325.6 819.7,326.6 819.6,327.6 819.5,328.6 819.4,329.6 819.3,330.6 819.2,331.6 819.1,332.6 819.0,333.6 818.9,334.6 818.8,335.6 818.8,336.6 818.7,337.6 818.6,338.6 818.5,339.6 818.4,340.6 818.4,341.6 818.3,342.6 818.2,343.6 818.2,344.6 818.2,345.6 818.1,346.6 818.1,347.6 818.1,348.6 818.1,349.6 818.0,350.6 818.0,351.6 818.0,352.6 818.0,353.6 818.0,354.6 818.0,355.6 817.9,356.6 817.9,357.6 817.9,358.6 817.9,359.6 817.9,360.6 817.9,361.6 817.9,362.6 817.9,363.6 817.9,364.6 817.9,365.6 818.0,366.6 818.0,367.6 818.0,368.6 818.0,369.6 818.1,370.6 818.1,371.6 818.2,372.6 818.2,373.6 818.3,374.6 818.4,375.6 818.5,376.6 818.5,377.6 818.6,378.6 818.6,379.6 818.7,380.6 818.7,381.6 818.8,382.6 818.8,383.6 818.9,384.6 818.9,385.6 818.9,386.6 818.9,387.6 818.9,388.6 818.9,389.6 818.9,390.6 818.9,391.6 818.8,392.6 818.8,393.6 818.8,394.6 818.8,395.6 818.7,396.6 818.6,397.6 818.5,398.6 818.4,399.6 818.3,400.6 818.2,401.6 818.1,402.6 818.0,403.6 817.9,404.6 817.7,405.6 817.6,406.6 817.5,407.6 817.3,408.6 817.2,409.6 817.0,410.6 816.8,411.6 816.7,412.6 816.5,413.6 816.3,414.6 816.2,415.6 816.0,416.6 815.8,417.6 815.6,418.6 815.4,419.6 815.2,420.6 815.0,421.6 814.9,422.6 814.7,423.6 814.5,424.6 814.3,425.6 814.2,426.6 814.0,427.6 813.8,428.6 813.7,429.6 813.5,430.6 813.4,431.6 813.2,432.6 813.0,433.6 812.9,434.6 812.7,435.6 812.6,436.6 812.4,437.6 812.3,438.6 812.1,439.6 812.0,440.6 811.9,441.6 811.7,442.6 811.6,443.6 811.5,444.6 811.4,445.6 811.3,446.6 811.1,447.6 811.0,448.6 810.9,449.6 810.8,450.6 810.8,451.6 810.7,452.6 810.6,453.6 810.5,454.6 810.4,455.6 810.3,456.6 810.3,457.6 810.2,458.6 810.1,459.6 810.0,460.6 810.0,461.6 809.9,462.6 809.9,463.6 809.8,464.6 809.8,465.6 809.8,466.6 809.7,467.6 809.7,468.6 809.7,469.6 809.6,470.6 809.6,471.6 809.6,472.6 809.6,473.6 809.5,474.6 809.5,475.6 809.5,476.6 809.5,477.6 809.5,478.6 809.4,479.6 809.4,480.6 809.4,481.6 809.4,482.6 809.4,483.6 809.3,484.6 809.3,485.6 809.3,486.6 809.3,487.6 809.2,488.6 809.2,489.6 809.2,490.6 809.2,491.6 809.2,492.6 809.1,493.6 809.1,494.6 809.1,495.6 809.1,496.6 809.1,497.6 809.0,498.6 809.0,499.6 809.0,500.6 809.0,501.6 808.9,502.6 808.9,503.6 808.9,504.6 808.9,505.6 808.8,506.6 808.8,507.6 808.8,508.6 808.7,509.6 808.7,510.6 808.6,511.6 808.6,512.6 808.6,513.6 808.5,514.6 808.5,515.6 808.4,516.6 808.3,517.6 808.3,518.6 808.2,519.6 808.2,520.6 808.1,521.6 808.0,522.6 807.9,523.6 807.8,524.6 807.7,525.6 807.6,526.6 807.5,527.6 807.4,528.6 807.2,529.6 807.1,530.6 807.0,531.6 806.9,532.6 806.7,533.6 806.6,534.6 806.5,535.6 806.4,536.6 806.2,537.6 806.1,538.6 806.0,539.6 805.8,540.6 805.7,541.6 805.5,542.6 805.4,543.6 805.2,544.6 805.1,545.6 804.9,546.6 804.7,547.6 804.6,548.6 804.4,549.6 804.2,550.6 804.0,551.6 803.7,552.6 803.5,553.6 803.3,554.6 803.0,555.6 802.8,556.6 802.5,557.6 802.2,558.6 802.0,559.6 801.7,560.6 801.4,561.6 801.1,562.6 800.8,563.6 800.5,564.6 800.1,565.6 799.8,566.6 799.5,567.6 799.1,568.6 798.7,569.6 798.4,570.6 798.0,571.6 797.6,572.6 797.3,573.6 796.9,574.6 796.6,575.6 796.2,576.6 795.8,577.6 795.4,578.6 795.0,579.6 794.5,580.6 794.1,581.6 793.6,582.6 793.1,583.6 792.5,584.6 791.9,585.6 791.3,586.6 790.6,587.6 789.8,588.6 789.0,589.6 788.2,590.6 787.3,591.6 786.4,592.6 785.5,593.6 784.5,594.6 783.6,595.6 782.6,596.6 781.6,597.6 780.6,598.6 779.6,599.6 778.6,600.6 777.6,601.6 776.6,602.6 775.6,603.6 774.6,604.6 773.6,605.6 772.5,606.6 771.5,607.6 770.6,608.6 769.6,609.6 768.7,610.6 767.8,611.6 766.9,612.6 766.0,613.6 765.2,614.6 764.4,615.6 763.6,616.6 762.9,617.6 762.1,618.6 761.4,619.6 760.7,620.6 760.1,621.6 759.4,622.6 758.8,623.6 758.2,624.6 757.7,625.6 757.1,626.6 756.6,627.6 756.1,628.6 755.6,629.6 755.1,630.6 754.6,631.6 754.2,632.6 753.8,633.6 753.3,634.6 752.9,635.6 752.4,636.6 752.0,637.6 751.6,638.6 751.1,639.6 750.7,640.6 750.3,641.6 749.8,642.6 749.4,643.6 749.0,644.6 748.6,645.6 748.1,646.6 747.7,647.6 747.2,648.6 746.8,649.6 746.4,650.6 746.0,651.6 745.5,652.6 745.1,653.6 744.7,654.6 744.3,655.6 743.8,656.6 743.4,657.6 743.0,658.6 742.6,659.6 742.2,660.6 741.8,661.6 741.4,662.6 741.0,663.6 740.6,664.6 740.2,665.6 739.8,666.6 739.4,667.6 739.0,668.6 738.7,669.6 738.3,670.6 738.0,671.6 737.7,672.6 737.3,673.6 737.0,674.6 736.7,675.6 736.4,676.6 736.1,677.6 735.8,678.6 735.5,679.6 735.1,680.6 734.8,681.6 734.5,682.6 734.2,683.6 734.0,684.6 733.8,685.6 733.6,686.6 733.4,687.6 733.3,688.6 733.1,689.6 732.9,690.6 732.6,691.6 732.2,692.6 731.9,693.6 731.6,694.6 731.3,695.6 731.0,696.6 730.7,697.6 730.4,698.6 730.2,699.6 730.0,700.6 729.8,701.6 729.7,702.6 729.6,703.6 729.5,704.6 729.4,705.6 729.4,706.6 729.5,707.6 729.6,708.6 729.8,709.6 730.0,710.6 730.2,711.6 730.6,712.6 731.1,713.6 731.7,714.6 732.4,715.6 733.2,716.6 734.2,717.6 735.2,718.6 736.4,719.6 737.8,720.6 739.2,721.6 740.7,722.6 742.1,723.6 743.7,724.6 745.3,725.6 747.0,726.6 748.8,727.6 750.6,728.6 752.5,729.6 754.3,730.6 756.1,731.6 757.9,732.6 759.8,733.6 761.6,734.6 763.5,735.6 765.4,736.6 767.3,737.6 769.2,738.6 771.1,739.6 773.0,740.6 774.9,741.6 776.8,742.6 778.7,743.6 780.5,744.6 782.4,745.6 784.2,746.6 786.1,747.6 787.9,748.6 789.7,749.6 791.5,750.6 793.4,751.6 795.1,752.6 796.8,753.6 798.4,754.6 800.0,755.6 801.5,756.6 802.9,757.6 804.3,758.6 805.6,759.6 806.9,760.6 808.1,761.6 809.3,762.6 810.4,763.6 811.4,764.6 812.5,765.6 813.4,766.6 814.3,767.6 815.1,768.6 815.8,769.6 816.5,770.6 817.1,771.6 817.7,772.6 818.2,773.6 818.8,774.6 819.3,775.6 819.7,776.6 820.1,777.6 820.5,778.6 820.9,779.6 821.2,780.6 821.5,781.6 821.8,782.6 822.0,783.6 822.3,784.6 822.5,785.6 822.7,786.6 823.0,787.6 823.1,788.6 823.3,789.6 823.5,790.6 823.6,791.6 823.8,792.6 823.9,793.6 823.9,793.6 824.0,792.6 824.2,791.6 824.3,790.6 824.5,789.6 824.7,788.6 824.8,787.6 825.1,786.6 825.3,785.6 825.5,784.6 825.8,783.6 826.0,782.6 826.3,781.6 826.6,780.6 826.9,779.6 827.3,778.6 827.7,777.6 828.1,776.6 828.5,775.6 829.0,774.6 829.6,773.6 830.1,772.6 830.7,771.6 831.3,770.6 832.0,769.6 832.7,768.6 833.5,767.6 834.4,766.6 835.3,765.6 836.4,764.6 837.4,763.6 838.5,762.6 839.7,761.6 840.9,760.6 842.2,759.6 843.5,758.6 844.9,757.6 846.3,756.6 847.8,755.6 849.4,754.6 851.0,753.6 852.7,752.6 854.4,751.6 856.3,750.6 858.1,749.6 859.9,748.6 861.7,747.6 863.6,746.6 865.4,745.6 867.3,744.6 869.1,743.6 871.0,742.6 872.9,741.6 874.8,740.6 876.7,739.6 878.6,738.6 880.5,737.6 882.4,736.6 884.3,735.6 886.2,734.6 888.0,733.6 889.9,732.6 891.7,731.6 893.5,730.6 895.3,729.6 897.2,728.6 899.0,727.6 900.8,726.6 902.5,725.6 904.1,724.6 905.7,723.6 907.1,722.6 908.6,721.6 910.0,720.6 911.4,719.6 912.6,718.6 913.6,717.6 914.6,716.6 915.4,715.6 916.1,714.6 916.7,713.6 917.2,712.6 917.6,711.6 917.8,710.6 918.0,709.6 918.2,708.6 918.3,707.6 918.4,706.6 918.4,705.6 918.3,704.6 918.2,703.6 918.1,702.6 918.0,701.6 917.8,700.6 917.6,699.6 917.4,698.6 917.1,697.6 916.8,696.6 916.5,695.6 916.2,694.6 915.9,693.6 915.6,692.6 915.2,691.6 914.9,690.6 914.7,689.6 914.5,688.6 914.4,687.6 914.2,686.6 914.0,685.6 913.8,684.6 913.6,683.6 913.3,682.6 913.0,681.6 912.7,680.6 912.3,679.6 912.0,678.6 911.7,677.6 911.4,676.6 911.1,675.6 910.8,674.6 910.5,673.6 910.1,672.6 909.8,671.6 909.5,670.6 909.1,669.6 908.8,668.6 908.4,667.6 908.0,666.6 907.6,665.6 907.2,664.6 906.8,663.6 906.4,662.6 906.0,661.6 905.6,660.6 905.2,659.6 904.8,658.6 904.4,657.6 904.0,656.6 903.5,655.6 903.1,654.6 902.7,653.6 902.3,652.6 901.8,651.6 901.4,650.6 901.0,649.6 900.6,648.6 900.1,647.6 899.7,646.6 899.2,645.6 898.8,644.6 898.4,643.6 898.0,642.6 897.5,641.6 897.1,640.6 896.7,639.6 896.2,638.6 895.8,637.6 895.4,636.6 894.9,635.6 894.5,634.6 894.0,633.6 893.6,632.6 893.2,631.6 892.7,630.6 892.2,629.6 891.7,628.6 891.2,627.6 890.7,626.6 890.1,625.6 889.6,624.6 889.0,623.6 888.4,622.6 887.7,621.6 887.1,620.6 886.4,619.6 885.7,618.6 884.9,617.6 884.2,616.6 883.4,615.6 882.6,614.6 881.8,613.6 880.9,612.6 880.0,611.6 879.1,610.6 878.2,609.6 877.2,608.6 876.3,607.6 875.3,606.6 874.2,605.6 873.2,604.6 872.2,603.6 871.2,602.6 870.2,601.6 869.2,600.6 868.2,599.6 867.2,598.6 866.2,597.6 865.2,596.6 864.2,595.6 863.3,594.6 862.3,593.6 861.4,592.6 860.5,591.6 859.6,590.6 858.8,589.6 858.0,588.6 857.2,587.6 856.5,586.6 855.9,585.6 855.3,584.6 854.7,583.6 854.2,582.6 853.7,581.6 853.3,580.6 852.8,579.6 852.4,578.6 852.0,577.6 851.6,576.6 851.2,575.6 850.9,574.6 850.5,573.6 850.2,572.6 849.8,571.6 849.4,570.6 849.1,569.6 848.7,568.6 848.3,567.6 848.0,566.6 847.7,565.6 847.3,564.6 847.0,563.6 846.7,562.6 846.4,561.6 846.1,560.6 845.8,559.6 845.6,558.6 845.3,557.6 845.0,556.6 844.8,555.6 844.5,554.6 844.3,553.6 844.1,552.6 843.8,551.6 843.6,550.6 843.4,549.6 843.2,548.6 843.1,547.6 842.9,546.6 842.7,545.6 842.6,544.6 842.4,543.6 842.3,542.6 842.1,541.6 842.0,540.6 841.8,539.6 841.7,538.6 841.6,537.6 841.4,536.6 841.3,535.6 841.2,534.6 841.1,533.6 840.9,532.6 840.8,531.6 840.7,530.6 840.6,529.6 840.4,528.6 840.3,527.6 840.2,526.6 840.1,525.6 840.0,524.6 839.9,523.6 839.8,522.6 839.7,521.6 839.6,520.6 839.6,519.6 839.5,518.6 839.5,517.6 839.4,516.6 839.3,515.6 839.3,514.6 839.2,513.6 839.2,512.6 839.2,511.6 839.1,510.6 839.1,509.6 839.0,508.6 839.0,507.6 839.0,506.6 838.9,505.6 838.9,504.6 838.9,503.6 838.9,502.6 838.8,501.6 838.8,500.6 838.8,499.6 838.8,498.6 838.7,497.6 838.7,496.6 838.7,495.6 838.7,494.6 838.7,493.6 838.6,492.6 838.6,491.6 838.6,490.6 838.6,489.6 838.6,488.6 838.5,487.6 838.5,486.6 838.5,485.6 838.5,484.6 838.4,483.6 838.4,482.6 838.4,481.6 838.4,480.6 838.4,479.6 838.3,478.6 838.3,477.6 838.3,476.6 838.3,475.6 838.3,474.6 838.2,473.6 838.2,472.6 838.2,471.6 838.2,470.6 838.1,469.6 838.1,468.6 838.1,467.6 838.0,466.6 838.0,465.6 838.0,464.6 837.9,463.6 837.9,462.6 837.8,461.6 837.8,460.6 837.7,459.6 837.6,458.6 837.5,457.6 837.5,456.6 837.4,455.6 837.3,454.6 837.2,453.6 837.1,452.6 837.0,451.6 837.0,450.6 836.9,449.6 836.8,448.6 836.7,447.6 836.5,446.6 836.4,445.6 836.3,444.6 836.2,443.6 836.1,442.6 835.9,441.6 835.8,440.6 835.7,439.6 835.5,438.6 835.4,437.6 835.2,436.6 835.1,435.6 834.9,434.6 834.8,433.6 834.6,432.6 834.4,431.6 834.3,430.6 834.1,429.6 834.0,428.6 833.8,427.6 833.6,426.6 833.5,425.6 833.3,424.6 833.1,423.6 832.9,422.6 832.8,421.6 832.6,420.6 832.4,419.6 832.2,418.6 832.0,417.6 831.8,416.6 831.6,415.6 831.5,414.6 831.3,413.6 831.1,412.6 831.0,411.6 830.8,410.6 830.6,409.6 830.5,408.6 830.3,407.6 830.2,406.6 830.1,405.6 829.9,404.6 829.8,403.6 829.7,402.6 829.6,401.6 829.5,400.6 829.4,399.6 829.3,398.6 829.2,397.6 829.1,396.6 829.0,395.6 829.0,394.6 829.0,393.6 829.0,392.6 828.9,391.6 828.9,390.6 828.9,389.6 828.9,388.6 828.9,387.6 828.9,386.6 828.9,385.6 828.9,384.6 829.0,383.6 829.0,382.6 829.1,381.6 829.1,380.6 829.2,379.6 829.2,378.6 829.3,377.6 829.3,376.6 829.4,375.6 829.5,374.6 829.6,373.6 829.6,372.6 829.7,371.6 829.7,370.6 829.8,369.6 829.8,368.6 829.8,367.6 829.8,366.6 829.9,365.6 829.9,364.6 829.9,363.6 829.9,362.6 829.9,361.6 829.9,360.6 829.9,359.6 829.9,358.6 829.9,357.6 829.9,356.6 829.8,355.6 829.8,354.6 829.8,353.6 829.8,352.6 829.8,351.6 829.8,350.6 829.7,349.6 829.7,348.6 829.7,347.6 829.7,346.6 829.6,345.6 829.6,344.6 829.6,343.6 829.5,342.6 829.4,341.6 829.4,340.6 829.3,339.6 829.2,338.6 829.1,337.6 829.0,336.6 829.0,335.6 828.9,334.6 828.8,333.6 828.7,332.6 828.6,331.6 828.5,330.6 828.4,329.6 828.3,328.6 828.2,327.6 828.1,326.6 828.0,325.6 827.9,324.6 827.7,323.6 827.6,322.6 827.5,321.6 827.3,320.6 827.2,319.6 827.1,318.6 826.9,317.6 826.8,316.6 826.7,315.6 826.5,314.6 826.4,313.6 826.2,312.6 826.0,311.6 825.9,310.6 825.7,309.6 825.6,308.6 825.5,307.6 825.4,306.6 825.3,305.6 825.2,304.6 825.1,303.6 825.1,302.6 825.0,301.6 825.0,300.6 825.0,299.6 825.0,298.6 825.0,297.6 825.1,296.6 825.1,295.6 825.2,294.6 825.2,293.6 825.3,292.6 825.3,291.6 825.4,290.6 825.4,289.6 825.5,288.6 825.5,287.6 825.6,286.6 825.7,285.6 825.7,284.6 825.8,283.6 825.9,282.6 825.9,281.6 826.0,280.6 826.1,279.6 826.1,278.6 826.2,277.6 826.2,276.6 826.3,275.6 826.3,274.6 826.4,273.6 826.4,272.6 826.4,271.6 826.5,270.6 826.5,269.6 826.6,268.6 826.6,267.6 826.6,266.6 826.7,265.6 826.7,264.6 826.7,263.6 826.8,262.6 826.8,261.6 826.8,260.6 826.8,259.6 826.9,258.6 826.9,257.6 826.9,256.6 826.9,255.6 826.9,254.6 826.9,253.6 826.9,252.6 826.9,251.6 826.9,250.6 826.8,249.6 826.8,248.6 826.8,247.6 826.7,246.6 826.7,245.6 826.7,244.6 826.6,243.6 826.6,242.6 826.5,241.6 826.5,240.6 826.4,239.6 826.4,238.6 826.3,237.6 826.3,236.6 826.2,235.6 826.2,234.6 826.1,233.6 826.1,232.6 826.0,231.6 826.0,230.6 825.9,229.6 825.8,228.6 825.7,227.6 825.7,226.6 825.6,225.6 825.5,224.6 825.4,223.6 825.4,222.6 825.3,221.6 825.2,220.6 825.1,219.6 825.1,218.6 825.0,217.6 824.9,216.6 824.9,215.6 824.8,214.6 824.8,213.6 824.7,212.6 824.7,211.6 824.7,210.6 824.6,209.6 824.6,208.6 824.6,207.6 824.5,206.6 824.5,205.6 824.5,204.6 824.5,203.6 824.5,202.6 824.4,201.6 824.4,200.6 824.4,199.6 824.4,198.6 824.4,197.6 824.3,196.6 824.3,195.6 824.3,194.6 824.3,193.6 824.2,192.6 824.2,191.6 824.2,190.6 824.2,189.6 824.1,188.6 824.1,187.6 824.1,186.6 824.0,185.6 824.0,184.6 823.9,183.6 823.9,182.6Z"/>
</g>
<g fill="#000">
<circle cx="179.7" cy="147.1" r="4.35"/>
<circle cx="160.2" cy="155.9" r="4.35"/>
<circle cx="198.1" cy="151.3" r="4.35"/>
<circle cx="219.5" cy="156.7" r="4.35"/>
<circle cx="176.6" cy="162.2" r="4.35"/>
<circle cx="193.4" cy="165.2" r="4.35"/>
<circle cx="194.1" cy="172.1" r="4.35"/>
<circle cx="167.9" cy="174.2" r="4.35"/>
<circle cx="181.6" cy="195.9" r="4.35"/>
<circle cx="209.2" cy="194.0" r="4.35"/>
<circle cx="215.1" cy="195.3" r="4.35"/>
<circle cx="215.5" cy="198.0" r="4.35"/>
<circle cx="221.8" cy="203.1" r="4.35"/>
<circle cx="234.9" cy="205.6" r="4.35"/>
<circle cx="172.6" cy="206.8" r="4.35"/>
<circle cx="188.6" cy="206.0" r="4.35"/>
<circle cx="195.1" cy="207.9" r="4.35"/>
<circle cx="205.0" cy="211.1" r="4.35"/>
<circle cx="209.4" cy="210.8" r="4.35"/>
<circle cx="158.3" cy="212.3" r="4.35"/>
<circle cx="186.3" cy="214.8" r="4.35"/>
<circle cx="175.9" cy="219.1" r="4.35"/>
<circle cx="164.8" cy="221.6" r="4.35"/>
<circle cx="162.7" cy="224.1" r="4.35"/>
<circle cx="174.5" cy="223.7" r="4.35"/>
<circle cx="169.0" cy="229.6" r="4.35"/>
<circle cx="235.3" cy="228.7" r="4.35"/>
<circle cx="181.2" cy="241.5" r="4.35"/>
<circle cx="181.8" cy="238.9" r="4.35"/>
<circle cx="201.6" cy="244.2" r="4.35"/>
<circle cx="218.1" cy="243.6" r="4.35"/>
<circle cx="229.0" cy="240.0" r="4.35"/>
<circle cx="175.5" cy="248.4" r="4.35"/>
<circle cx="210.1" cy="250.5" r="4.35"/>
<circle cx="177.0" cy="253.7" r="4.35"/>
<circle cx="181.2" cy="255.4" r="4.35"/>
<circle cx="185.0" cy="256.8" r="4.35"/>
<circle cx="229.0" cy="259.6" r="4.35"/>
<circle cx="203.7" cy="261.7" r="4.35"/>
<circle cx="198.1" cy="264.8" r="4.35"/>
<circle cx="209.6" cy="265.7" r="4.35"/>
<circle cx="215.3" cy="268.0" r="4.35"/>
<circle cx="185.4" cy="266.7" r="4.35"/>
<circle cx="172.2" cy="268.8" r="4.35"/>
<circle cx="161.6" cy="271.6" r="4.35"/>
<circle cx="178.1" cy="274.1" r="4.35"/>
<circle cx="191.1" cy="272.2" r="4.35"/>
<circle cx="227.5" cy="272.6" r="4.35"/>
<circle cx="182.9" cy="286.7" r="4.35"/>
<circle cx="190.7" cy="286.7" r="4.35"/>
<circle cx="167.1" cy="291.6" r="4.35"/>
<circle cx="176.6" cy="292.0" r="4.35"/>
<circle cx="222.9" cy="290.5" r="4.35"/>
<circle cx="174.9" cy="299.6" r="4.35"/>
<circle cx="158.1" cy="303.2" r="4.35"/>
<circle cx="156.4" cy="306.5" r="4.35"/>
<circle cx="173.0" cy="308.0" r="4.35"/>
<circle cx="185.0" cy="306.9" r="4.35"/>
<circle cx="223.3" cy="312.2" r="4.35"/>
<circle cx="169.6" cy="317.3" r="4.35"/>
<circle cx="174.3" cy="316.4" r="4.35"/>
<circle cx="184.8" cy="318.5" r="4.35"/>
<circle cx="167.1" cy="338.9" r="4.35"/>
<circle cx="167.5" cy="345.9" r="4.35"/>
<circle cx="156.6" cy="349.5" r="4.35"/>
<circle cx="186.5" cy="345.9" r="4.35"/>
<circle cx="193.8" cy="346.7" r="4.35"/>
<circle cx="230.7" cy="349.9" r="4.35"/>
<circle cx="227.1" cy="354.9" r="4.35"/>
<circle cx="214.5" cy="379.6" r="4.35"/>
<circle cx="155.5" cy="387.6" r="4.35"/>
<circle cx="201.6" cy="390.7" r="4.35"/>
<circle cx="173.8" cy="402.3" r="4.35"/>
<circle cx="237.0" cy="402.9" r="4.35"/>
<circle cx="161.2" cy="412.6" r="4.35"/>
<circle cx="237.4" cy="430.4" r="4.35"/>
<circle cx="167.5" cy="439.5" r="4.35"/>
<circle cx="167.5" cy="444.3" r="4.35"/>
<circle cx="206.7" cy="444.1" r="4.35"/>
<circle cx="214.9" cy="455.1" r="4.35"/>
<circle cx="181.8" cy="456.9" r="4.35"/>
<circle cx="157.6" cy="470.0" r="4.35"/>
<circle cx="182.1" cy="476.1" r="4.35"/>
<circle cx="176.6" cy="494.6" r="4.35"/>
<circle cx="187.9" cy="503.5" r="4.35"/>
<circle cx="226.5" cy="506.2" r="4.35"/>
<circle cx="206.3" cy="516.5" r="4.35"/>
<circle cx="204.2" cy="527.9" r="4.35"/>
<circle cx="442.4" cy="151.5" r="4.35"/>
<circle cx="413.6" cy="153.8" r="4.35"/>
<circle cx="413.2" cy="163.7" r="4.35"/>
<circle cx="439.9" cy="174.2" r="4.35"/>
<circle cx="390.2" cy="176.5" r="4.35"/>
<circle cx="445.2" cy="183.7" r="4.35"/>
<circle cx="380.1" cy="195.3" r="4.35"/>
<circle cx="390.6" cy="193.6" r="4.35"/>
<circle cx="401.8" cy="195.3" r="4.35"/>
<circle cx="402.8" cy="198.8" r="4.35"/>
<circle cx="412.1" cy="198.8" r="4.35"/>
<circle cx="431.9" cy="195.9" r="4.35"/>
<circle cx="434.4" cy="199.5" r="4.35"/>
<circle cx="447.1" cy="199.7" r="4.35"/>
<circle cx="369.4" cy="200.1" r="4.35"/>
<circle cx="368.3" cy="210.6" r="4.35"/>
<circle cx="442.2" cy="216.3" r="4.35"/>
<circle cx="411.9" cy="222.2" r="4.35"/>
<circle cx="377.8" cy="225.4" r="4.35"/>
<circle cx="395.9" cy="228.1" r="4.35"/>
<circle cx="386.0" cy="242.5" r="4.35"/>
<circle cx="380.7" cy="246.3" r="4.35"/>
<circle cx="377.6" cy="249.5" r="4.35"/>
<circle cx="375.5" cy="252.0" r="4.35"/>
<circle cx="416.5" cy="244.2" r="4.35"/>
<circle cx="425.4" cy="243.2" r="4.35"/>
<circle cx="439.5" cy="245.1" r="4.35"/>
<circle cx="410.6" cy="250.9" r="4.35"/>
<circle cx="402.4" cy="253.7" r="4.35"/>
<circle cx="384.9" cy="256.2" r="4.35"/>
<circle cx="419.7" cy="257.9" r="4.35"/>
<circle cx="427.1" cy="254.7" r="4.35"/>
<circle cx="429.2" cy="257.3" r="4.35"/>
<circle cx="424.9" cy="260.4" r="4.35"/>
<circle cx="391.9" cy="261.5" r="4.35"/>
<circle cx="399.7" cy="263.8" r="4.35"/>
<circle cx="410.6" cy="262.5" r="4.35"/>
<circle cx="419.7" cy="264.6" r="4.35"/>
<circle cx="419.7" cy="270.1" r="4.35"/>
<circle cx="375.5" cy="270.5" r="4.35"/>
<circle cx="375.5" cy="273.1" r="4.35"/>
<circle cx="395.1" cy="270.9" r="4.35"/>
<circle cx="366.0" cy="288.8" r="4.35"/>
<circle cx="393.4" cy="287.4" r="4.35"/>
<circle cx="428.1" cy="284.8" r="4.35"/>
<circle cx="443.9" cy="285.3" r="4.35"/>
<circle cx="435.9" cy="287.4" r="4.35"/>
<circle cx="416.9" cy="291.2" r="4.35"/>
<circle cx="376.1" cy="294.1" r="4.35"/>
<circle cx="400.1" cy="294.3" r="4.35"/>
<circle cx="440.7" cy="293.7" r="4.35"/>
<circle cx="434.8" cy="295.2" r="4.35"/>
<circle cx="430.2" cy="297.3" r="4.35"/>
<circle cx="421.8" cy="298.9" r="4.35"/>
<circle cx="421.8" cy="303.2" r="4.35"/>
<circle cx="382.2" cy="303.2" r="4.35"/>
<circle cx="402.8" cy="302.7" r="4.35"/>
<circle cx="388.1" cy="306.9" r="4.35"/>
<circle cx="377.6" cy="308.4" r="4.35"/>
<circle cx="398.6" cy="307.8" r="4.35"/>
<circle cx="402.8" cy="311.6" r="4.35"/>
<circle cx="412.3" cy="311.6" r="4.35"/>
<circle cx="399.3" cy="313.3" r="4.35"/>
<circle cx="390.2" cy="315.4" r="4.35"/>
<circle cx="384.3" cy="316.8" r="4.35"/>
<circle cx="367.1" cy="318.5" r="4.35"/>
<circle cx="427.5" cy="319.2" r="4.35"/>
<circle cx="411.3" cy="338.9" r="4.35"/>
<circle cx="428.1" cy="335.2" r="4.35"/>
<circle cx="436.5" cy="334.1" r="4.35"/>
<circle cx="440.7" cy="333.3" r="4.35"/>
<circle cx="447.1" cy="340.0" r="4.35"/>
<circle cx="389.6" cy="343.8" r="4.35"/>
<circle cx="392.3" cy="348.0" r="4.35"/>
<circle cx="372.7" cy="353.3" r="4.35"/>
<circle cx="394.4" cy="352.0" r="4.35"/>
<circle cx="402.8" cy="353.7" r="4.35"/>
<circle cx="399.7" cy="355.8" r="4.35"/>
<circle cx="377.6" cy="358.3" r="4.35"/>
<circle cx="389.2" cy="358.3" r="4.35"/>
<circle cx="438.2" cy="361.1" r="4.35"/>
<circle cx="419.7" cy="362.7" r="4.35"/>
<circle cx="422.8" cy="364.2" r="4.35"/>
<circle cx="430.6" cy="365.9" r="4.35"/>
<circle cx="371.9" cy="366.3" r="4.35"/>
<circle cx="390.2" cy="365.9" r="4.35"/>
<circle cx="394.8" cy="365.9" r="4.35"/>
<circle cx="403.9" cy="366.7" r="4.35"/>
<circle cx="411.9" cy="380.4" r="4.35"/>
<circle cx="439.3" cy="388.4" r="4.35"/>
<circle cx="364.9" cy="392.2" r="4.35"/>
<circle cx="367.7" cy="395.2" r="4.35"/>
<circle cx="416.5" cy="393.1" r="4.35"/>
<circle cx="408.1" cy="396.8" r="4.35"/>
<circle cx="446.4" cy="396.2" r="4.35"/>
<circle cx="418.2" cy="406.3" r="4.35"/>
<circle cx="432.9" cy="407.6" r="4.35"/>
<circle cx="371.3" cy="409.5" r="4.35"/>
<circle cx="378.2" cy="411.2" r="4.35"/>
<circle cx="414.8" cy="412.0" r="4.35"/>
<circle cx="395.5" cy="412.6" r="4.35"/>
<circle cx="395.5" cy="414.7" r="4.35"/>
<circle cx="416.5" cy="428.8" r="4.35"/>
<circle cx="380.7" cy="438.8" r="4.35"/>
<circle cx="383.9" cy="438.4" r="4.35"/>
<circle cx="393.4" cy="438.0" r="4.35"/>
<circle cx="395.1" cy="440.1" r="4.35"/>
<circle cx="403.9" cy="439.5" r="4.35"/>
<circle cx="420.9" cy="440.5" r="4.35"/>
<circle cx="392.3" cy="451.1" r="4.35"/>
<circle cx="374.4" cy="453.6" r="4.35"/>
<circle cx="385.6" cy="455.3" r="4.35"/>
<circle cx="440.3" cy="456.5" r="4.35"/>
<circle cx="435.1" cy="458.0" r="4.35"/>
<circle cx="431.3" cy="471.5" r="4.35"/>
<circle cx="368.7" cy="531.7" r="4.35"/>
<circle cx="388.5" cy="566.8" r="4.35"/>
<circle cx="403.1" cy="578.6" r="4.35"/>
<circle cx="403.5" cy="591.5" r="4.35"/>
<circle cx="400.1" cy="595.3" r="4.35"/>
<circle cx="437.6" cy="618.4" r="4.35"/>
<circle cx="391.1" cy="634.7" r="4.35"/>
<circle cx="365.8" cy="660.6" r="4.35"/>
<circle cx="392.3" cy="667.6" r="4.35"/>
<circle cx="617.1" cy="152.7" r="4.35"/>
<circle cx="604.1" cy="155.7" r="4.35"/>
<circle cx="609.1" cy="155.5" r="4.35"/>
<circle cx="604.9" cy="183.7" r="4.35"/>
<circle cx="580.6" cy="198.5" r="4.35"/>
<circle cx="607.5" cy="200.5" r="4.35"/>
<circle cx="618.4" cy="204.5" r="4.35"/>
<circle cx="630.4" cy="200.5" r="4.35"/>
<circle cx="644.1" cy="200.4" r="4.35"/>
<circle cx="589.7" cy="209.6" r="4.35"/>
<circle cx="593.5" cy="211.7" r="4.35"/>
<circle cx="584.9" cy="214.9" r="4.35"/>
<circle cx="638.0" cy="213.4" r="4.35"/>
<circle cx="631.4" cy="219.9" r="4.35"/>
<circle cx="599.8" cy="221.8" r="4.35"/>
<circle cx="594.2" cy="222.6" r="4.35"/>
<circle cx="645.3" cy="222.8" r="4.35"/>
<circle cx="589.4" cy="227.9" r="4.35"/>
<circle cx="624.0" cy="226.3" r="4.35"/>
<circle cx="643.4" cy="240.1" r="4.35"/>
<circle cx="637.7" cy="243.9" r="4.35"/>
<circle cx="588.9" cy="245.6" r="4.35"/>
<circle cx="607.2" cy="244.6" r="4.35"/>
<circle cx="579.6" cy="253.2" r="4.35"/>
<circle cx="584.7" cy="254.2" r="4.35"/>
<circle cx="648.1" cy="252.8" r="4.35"/>
<circle cx="599.7" cy="256.9" r="4.35"/>
<circle cx="624.9" cy="254.2" r="4.35"/>
<circle cx="625.7" cy="257.6" r="4.35"/>
<circle cx="617.8" cy="260.4" r="4.35"/>
<circle cx="623.2" cy="260.7" r="4.35"/>
<circle cx="574.8" cy="265.3" r="4.35"/>
<circle cx="635.2" cy="261.6" r="4.35"/>
<circle cx="633.3" cy="264.5" r="4.35"/>
<circle cx="602.2" cy="266.4" r="4.35"/>
<circle cx="616.6" cy="268.7" r="4.35"/>
<circle cx="642.2" cy="267.3" r="4.35"/>
<circle cx="645.6" cy="271.5" r="4.35"/>
<circle cx="655.2" cy="270.0" r="4.35"/>
<circle cx="587.2" cy="274.0" r="4.35"/>
<circle cx="595.7" cy="275.5" r="4.35"/>
<circle cx="616.0" cy="288.1" r="4.35"/>
<circle cx="632.1" cy="287.9" r="4.35"/>
<circle cx="632.7" cy="292.3" r="4.35"/>
<circle cx="627.3" cy="293.6" r="4.35"/>
<circle cx="608.1" cy="295.9" r="4.35"/>
<circle cx="617.3" cy="296.5" r="4.35"/>
<circle cx="627.3" cy="298.0" r="4.35"/>
<circle cx="592.6" cy="297.6" r="4.35"/>
<circle cx="644.1" cy="301.5" r="4.35"/>
<circle cx="588.1" cy="301.9" r="4.35"/>
<circle cx="582.8" cy="307.8" r="4.35"/>
<circle cx="594.8" cy="306.9" r="4.35"/>
<circle cx="608.9" cy="305.9" r="4.35"/>
<circle cx="631.8" cy="307.6" r="4.35"/>
<circle cx="602.4" cy="311.7" r="4.35"/>
<circle cx="613.1" cy="311.0" r="4.35"/>
<circle cx="620.3" cy="314.9" r="4.35"/>
<circle cx="651.3" cy="315.2" r="4.35"/>
<circle cx="584.7" cy="312.6" r="4.35"/>
<circle cx="589.1" cy="316.8" r="4.35"/>
<circle cx="590.0" cy="335.7" r="4.35"/>
<circle cx="640.9" cy="334.7" r="4.35"/>
<circle cx="630.4" cy="336.6" r="4.35"/>
<circle cx="599.2" cy="338.9" r="4.35"/>
<circle cx="609.6" cy="339.8" r="4.35"/>
<circle cx="613.4" cy="340.7" r="4.35"/>
<circle cx="621.9" cy="341.7" r="4.35"/>
<circle cx="581.1" cy="343.6" r="4.35"/>
<circle cx="651.0" cy="344.2" r="4.35"/>
<circle cx="645.3" cy="344.2" r="4.35"/>
<circle cx="641.3" cy="345.7" r="4.35"/>
<circle cx="599.8" cy="346.4" r="4.35"/>
<circle cx="605.9" cy="348.9" r="4.35"/>
<circle cx="629.1" cy="348.9" r="4.35"/>
<circle cx="637.7" cy="349.3" r="4.35"/>
<circle cx="583.8" cy="352.2" r="4.35"/>
<circle cx="629.1" cy="353.1" r="4.35"/>
<circle cx="638.7" cy="353.7" r="4.35"/>
<circle cx="647.0" cy="351.8" r="4.35"/>
<circle cx="588.5" cy="356.2" r="4.35"/>
<circle cx="597.9" cy="357.7" r="4.35"/>
<circle cx="653.1" cy="358.1" r="4.35"/>
<circle cx="628.0" cy="359.4" r="4.35"/>
<circle cx="631.4" cy="358.7" r="4.35"/>
<circle cx="587.2" cy="361.9" r="4.35"/>
<circle cx="613.1" cy="365.1" r="4.35"/>
<circle cx="573.9" cy="366.1" r="4.35"/>
<circle cx="584.7" cy="366.7" r="4.35"/>
<circle cx="591.6" cy="365.7" r="4.35"/>
<circle cx="593.5" cy="367.2" r="4.35"/>
<circle cx="599.0" cy="367.6" r="4.35"/>
<circle cx="605.9" cy="367.3" r="4.35"/>
<circle cx="637.5" cy="378.3" r="4.35"/>
<circle cx="588.9" cy="382.7" r="4.35"/>
<circle cx="622.2" cy="384.3" r="4.35"/>
<circle cx="576.1" cy="387.8" r="4.35"/>
<circle cx="628.9" cy="387.8" r="4.35"/>
<circle cx="584.1" cy="389.7" r="4.35"/>
<circle cx="590.0" cy="389.9" r="4.35"/>
<circle cx="596.9" cy="394.7" r="4.35"/>
<circle cx="573.3" cy="398.8" r="4.35"/>
<circle cx="644.7" cy="396.6" r="4.35"/>
<circle cx="649.1" cy="397.0" r="4.35"/>
<circle cx="637.1" cy="399.8" r="4.35"/>
<circle cx="655.0" cy="399.5" r="4.35"/>
<circle cx="640.9" cy="400.4" r="4.35"/>
<circle cx="627.9" cy="402.9" r="4.35"/>
<circle cx="641.3" cy="407.4" r="4.35"/>
<circle cx="617.8" cy="408.0" r="4.35"/>
<circle cx="621.3" cy="409.3" r="4.35"/>
<circle cx="599.8" cy="408.6" r="4.35"/>
<circle cx="595.2" cy="411.0" r="4.35"/>
<circle cx="605.5" cy="413.8" r="4.35"/>
<circle cx="594.8" cy="426.8" r="4.35"/>
<circle cx="591.0" cy="429.6" r="4.35"/>
<circle cx="608.1" cy="429.6" r="4.35"/>
<circle cx="652.0" cy="426.4" r="4.35"/>
<circle cx="652.0" cy="433.4" r="4.35"/>
<circle cx="606.8" cy="436.9" r="4.35"/>
<circle cx="592.5" cy="439.1" r="4.35"/>
<circle cx="616.3" cy="439.1" r="4.35"/>
<circle cx="649.1" cy="439.7" r="4.35"/>
<circle cx="612.5" cy="444.1" r="4.35"/>
<circle cx="619.4" cy="443.5" r="4.35"/>
<circle cx="631.7" cy="442.8" r="4.35"/>
<circle cx="637.1" cy="444.1" r="4.35"/>
<circle cx="643.4" cy="444.1" r="4.35"/>
<circle cx="647.2" cy="443.5" r="4.35"/>
<circle cx="592.9" cy="446.0" r="4.35"/>
<circle cx="624.5" cy="446.6" r="4.35"/>
<circle cx="634.6" cy="452.3" r="4.35"/>
<circle cx="573.3" cy="457.7" r="4.35"/>
<circle cx="655.8" cy="459.6" r="4.35"/>
<circle cx="581.1" cy="472.1" r="4.35"/>
<circle cx="587.2" cy="474.4" r="4.35"/>
<circle cx="599.2" cy="473.5" r="4.35"/>
<circle cx="611.0" cy="473.2" r="4.35"/>
<circle cx="636.5" cy="470.9" r="4.35"/>
<circle cx="643.0" cy="474.8" r="4.35"/>
<circle cx="616.9" cy="476.6" r="4.35"/>
<circle cx="612.5" cy="478.8" r="4.35"/>
<circle cx="651.6" cy="479.2" r="4.35"/>
<circle cx="625.1" cy="480.7" r="4.35"/>
<circle cx="591.0" cy="484.8" r="4.35"/>
<circle cx="601.7" cy="486.4" r="4.35"/>
<circle cx="611.2" cy="485.8" r="4.35"/>
<circle cx="614.4" cy="487.1" r="4.35"/>
<circle cx="644.9" cy="486.4" r="4.35"/>
<circle cx="657.1" cy="486.8" r="4.35"/>
<circle cx="630.2" cy="488.9" r="4.35"/>
<circle cx="627.6" cy="491.5" r="4.35"/>
<circle cx="653.5" cy="492.1" r="4.35"/>
<circle cx="649.7" cy="492.1" r="4.35"/>
<circle cx="592.0" cy="493.4" r="4.35"/>
<circle cx="615.6" cy="494.4" r="4.35"/>
<circle cx="639.6" cy="494.0" r="4.35"/>
<circle cx="579.9" cy="496.9" r="4.35"/>
<circle cx="606.8" cy="496.5" r="4.35"/>
<circle cx="625.7" cy="495.9" r="4.35"/>
<circle cx="628.9" cy="499.7" r="4.35"/>
<circle cx="647.2" cy="500.3" r="4.35"/>
<circle cx="587.8" cy="502.0" r="4.35"/>
<circle cx="595.0" cy="503.2" r="4.35"/>
<circle cx="604.6" cy="503.2" r="4.35"/>
<circle cx="637.1" cy="502.8" r="4.35"/>
<circle cx="634.2" cy="504.1" r="4.35"/>
<circle cx="575.0" cy="505.1" r="4.35"/>
<circle cx="592.3" cy="521.3" r="4.35"/>
<circle cx="605.9" cy="522.8" r="4.35"/>
<circle cx="585.9" cy="526.9" r="4.35"/>
<circle cx="613.7" cy="525.9" r="4.35"/>
<circle cx="624.5" cy="525.4" r="4.35"/>
<circle cx="620.7" cy="529.5" r="4.35"/>
<circle cx="641.5" cy="529.1" r="4.35"/>
<circle cx="654.2" cy="528.2" r="4.35"/>
<circle cx="637.1" cy="530.7" r="4.35"/>
<circle cx="578.1" cy="533.0" r="4.35"/>
<circle cx="593.1" cy="536.2" r="4.35"/>
<circle cx="618.5" cy="536.8" r="4.35"/>
<circle cx="627.6" cy="534.9" r="4.35"/>
<circle cx="640.9" cy="536.4" r="4.35"/>
<circle cx="653.5" cy="537.7" r="4.35"/>
<circle cx="646.6" cy="542.7" r="4.35"/>
<circle cx="588.1" cy="543.4" r="4.35"/>
<circle cx="583.8" cy="549.1" r="4.35"/>
<circle cx="594.8" cy="546.5" r="4.35"/>
<circle cx="598.6" cy="550.3" r="4.35"/>
<circle cx="628.0" cy="549.7" r="4.35"/>
<circle cx="638.4" cy="552.2" r="4.35"/>
<circle cx="578.1" cy="564.0" r="4.35"/>
<circle cx="587.2" cy="565.1" r="4.35"/>
<circle cx="595.8" cy="567.0" r="4.35"/>
<circle cx="618.8" cy="565.2" r="4.35"/>
<circle cx="630.2" cy="565.1" r="4.35"/>
<circle cx="640.5" cy="566.4" r="4.35"/>
<circle cx="577.5" cy="570.1" r="4.35"/>
<circle cx="643.4" cy="569.6" r="4.35"/>
<circle cx="655.2" cy="571.2" r="4.35"/>
<circle cx="619.8" cy="572.7" r="4.35"/>
<circle cx="585.3" cy="574.3" r="4.35"/>
<circle cx="641.5" cy="574.9" r="4.35"/>
<circle cx="649.7" cy="576.8" r="4.35"/>
<circle cx="603.0" cy="576.6" r="4.35"/>
<circle cx="582.2" cy="580.0" r="4.35"/>
<circle cx="592.9" cy="581.5" r="4.35"/>
<circle cx="597.3" cy="582.3" r="4.35"/>
<circle cx="612.5" cy="582.5" r="4.35"/>
<circle cx="592.9" cy="591.6" r="4.35"/>
<circle cx="646.6" cy="593.6" r="4.35"/>
<circle cx="625.5" cy="596.0" r="4.35"/>
<circle cx="575.2" cy="596.4" r="4.35"/>
<circle cx="579.6" cy="596.0" r="4.35"/>
<circle cx="640.3" cy="598.9" r="4.35"/>
<circle cx="647.0" cy="596.4" r="4.35"/>
<circle cx="573.9" cy="613.7" r="4.35"/>
<circle cx="615.4" cy="612.0" r="4.35"/>
<circle cx="648.5" cy="612.8" r="4.35"/>
<circle cx="627.6" cy="615.6" r="4.35"/>
<circle cx="632.1" cy="615.0" r="4.35"/>
<circle cx="645.3" cy="618.9" r="4.35"/>
<circle cx="624.9" cy="621.7" r="4.35"/>
<circle cx="610.6" cy="624.6" r="4.35"/>
<circle cx="618.5" cy="628.0" r="4.35"/>
<circle cx="602.6" cy="635.1" r="4.35"/>
<circle cx="585.3" cy="637.2" r="4.35"/>
<circle cx="637.1" cy="636.9" r="4.35"/>
<circle cx="633.3" cy="631.9" r="4.35"/>
<circle cx="620.1" cy="637.8" r="4.35"/>
<circle cx="616.3" cy="640.5" r="4.35"/>
<circle cx="630.8" cy="640.1" r="4.35"/>
<circle cx="618.8" cy="630.0" r="4.35"/>
<circle cx="592.9" cy="644.3" r="4.35"/>
<circle cx="604.0" cy="644.5" r="4.35"/>
<circle cx="654.8" cy="654.4" r="4.35"/>
<circle cx="644.1" cy="661.6" r="4.35"/>
<circle cx="600.2" cy="664.7" r="4.35"/>
<circle cx="617.8" cy="663.9" r="4.35"/>
<circle cx="577.7" cy="669.8" r="4.35"/>
<circle cx="587.6" cy="670.4" r="4.35"/>
<circle cx="580.3" cy="673.6" r="4.35"/>
<circle cx="637.1" cy="667.9" r="4.35"/>
<circle cx="656.1" cy="669.8" r="4.35"/>
<circle cx="649.1" cy="672.6" r="4.35"/>
<circle cx="639.4" cy="674.2" r="4.35"/>
<circle cx="597.6" cy="677.7" r="4.35"/>
<circle cx="651.0" cy="678.6" r="4.35"/>
<circle cx="640.9" cy="679.9" r="4.35"/>
<circle cx="621.3" cy="679.5" r="4.35"/>
<circle cx="642.2" cy="686.8" r="4.35"/>
<circle cx="647.8" cy="689.7" r="4.35"/>
<circle cx="626.1" cy="701.4" r="4.35"/>
<circle cx="652.0" cy="703.3" r="4.35"/>
<circle cx="577.7" cy="712.7" r="4.35"/>
<circle cx="641.5" cy="714.6" r="4.35"/>
<circle cx="649.7" cy="723.9" r="4.35"/>
<circle cx="623.8" cy="727.9" r="4.35"/>
<circle cx="597.7" cy="729.8" r="4.35"/>
<circle cx="582.5" cy="733.6" r="4.35"/>
<circle cx="587.2" cy="732.7" r="4.35"/>
<circle cx="600.2" cy="735.9" r="4.35"/>
<circle cx="825.1" cy="258.0" r="4.35"/>
<circle cx="837.9" cy="356.7" r="4.35"/>
<circle cx="821.9" cy="367.8" r="4.35"/>
<circle cx="857.1" cy="393.3" r="4.35"/>
<circle cx="851.4" cy="433.1" r="4.35"/>
<circle cx="848.2" cy="437.3" r="4.35"/>
<circle cx="865.5" cy="436.0" r="4.35"/>
<circle cx="821.3" cy="458.9" r="4.35"/>
<circle cx="821.7" cy="480.0" r="4.35"/>
<circle cx="842.3" cy="486.5" r="4.35"/>
<circle cx="858.7" cy="491.2" r="4.35"/>
<circle cx="784.4" cy="516.4" r="4.35"/>
<circle cx="803.6" cy="521.1" r="4.35"/>
<circle cx="813.5" cy="529.9" r="4.35"/>
<circle cx="784.4" cy="546.3" r="4.35"/>
<circle cx="800.8" cy="550.7" r="4.35"/>
<circle cx="866.1" cy="563.3" r="4.35"/>
<circle cx="827.2" cy="568.3" r="4.35"/>
<circle cx="860.2" cy="571.5" r="4.35"/>
<circle cx="821.9" cy="577.4" r="4.35"/>
<circle cx="824.0" cy="581.6" r="4.35"/>
<circle cx="806.1" cy="592.7" r="4.35"/>
<circle cx="845.5" cy="598.0" r="4.35"/>
<circle cx="842.9" cy="611.1" r="4.35"/>
<circle cx="794.5" cy="614.8" r="4.35"/>
<circle cx="799.4" cy="618.4" r="4.35"/>
<circle cx="808.2" cy="619.5" r="4.35"/>
<circle cx="828.6" cy="618.4" r="4.35"/>
<circle cx="852.8" cy="616.9" r="4.35"/>
<circle cx="844.4" cy="620.1" r="4.35"/>
<circle cx="782.9" cy="623.1" r="4.35"/>
<circle cx="797.7" cy="624.1" r="4.35"/>
<circle cx="809.9" cy="624.7" r="4.35"/>
<circle cx="847.6" cy="624.7" r="4.35"/>
<circle cx="859.8" cy="624.1" r="4.35"/>
<circle cx="787.2" cy="627.9" r="4.35"/>
<circle cx="854.5" cy="629.6" r="4.35"/>
<circle cx="801.3" cy="632.1" r="4.35"/>
<circle cx="841.9" cy="636.9" r="4.35"/>
<circle cx="784.0" cy="641.6" r="4.35"/>
<circle cx="823.6" cy="643.3" r="4.35"/>
<circle cx="834.1" cy="640.9" r="4.35"/>
<circle cx="852.4" cy="642.0" r="4.35"/>
<circle cx="784.0" cy="661.2" r="4.35"/>
<circle cx="804.0" cy="658.4" r="4.35"/>
<circle cx="832.0" cy="662.0" r="4.35"/>
<circle cx="847.2" cy="659.5" r="4.35"/>
<circle cx="854.1" cy="659.1" r="4.35"/>
<circle cx="861.9" cy="663.1" r="4.35"/>
<circle cx="785.1" cy="668.9" r="4.35"/>
<circle cx="803.6" cy="666.8" r="4.35"/>
<circle cx="808.2" cy="667.9" r="4.35"/>
<circle cx="864.0" cy="667.5" r="4.35"/>
<circle cx="824.0" cy="668.9" r="4.35"/>
<circle cx="816.0" cy="673.2" r="4.35"/>
<circle cx="830.3" cy="672.5" r="4.35"/>
<circle cx="839.8" cy="676.9" r="4.35"/>
<circle cx="858.7" cy="675.9" r="4.35"/>
<circle cx="807.8" cy="682.0" r="4.35"/>
<circle cx="829.3" cy="682.6" r="4.35"/>
<circle cx="825.1" cy="687.3" r="4.35"/>
<circle cx="848.2" cy="684.3" r="4.35"/>
<circle cx="844.0" cy="687.3" r="4.35"/>
<circle cx="799.8" cy="700.5" r="4.35"/>
<circle cx="801.9" cy="703.7" r="4.35"/>
<circle cx="842.5" cy="702.6" r="4.35"/>
<circle cx="850.3" cy="700.5" r="4.35"/>
<circle cx="854.5" cy="702.0" r="4.35"/>
<circle cx="833.5" cy="707.3" r="4.35"/>
<circle cx="838.7" cy="706.2" r="4.35"/>
<circle cx="794.5" cy="712.1" r="4.35"/>
<circle cx="825.7" cy="712.7" r="4.35"/>
<circle cx="798.7" cy="716.9" r="4.35"/>
<circle cx="863.6" cy="716.9" r="4.35"/>
<circle cx="840.4" cy="718.4" r="4.35"/>
<circle cx="790.7" cy="720.5" r="4.35"/>
<circle cx="818.1" cy="722.0" r="4.35"/>
<circle cx="865.1" cy="722.6" r="4.35"/>
<circle cx="802.9" cy="724.3" r="4.35"/>
<circle cx="851.4" cy="724.7" r="4.35"/>
<circle cx="830.9" cy="726.8" r="4.35"/>
<circle cx="855.6" cy="728.5" r="4.35"/>
<circle cx="808.8" cy="729.4" r="4.35"/>
<circle cx="862.9" cy="730.4" r="4.35"/>
<circle cx="804.6" cy="731.7" r="4.35"/>
<circle cx="796.6" cy="734.6" r="4.35"/>
<circle cx="813.1" cy="734.6" r="4.35"/>
<circle cx="841.5" cy="733.8" r="4.35"/>
<circle cx="804.6" cy="736.3" r="4.35"/>
</g>
<g stroke="#000" stroke-width="5.7">
<line x1="144.5" x2="249.1" y1="295.4" y2="295.4"/>
<line x1="353.5" x2="458.1" y1="330.3" y2="330.3"/>
<line x1="562.6" x2="667.2" y1="451.7" y2="451.7"/>
<line x1="771.6" x2="876.2" y1="634.6" y2="634.6"/>
</g>
<rect x="72.1" y="0.8" width="876.9" height="882.5" fill="none" stroke="#444" stroke-width="1.7"/>
<g stroke="#111" stroke-width="2.3">
<line x1="65" x2="72.1" y1="719.2" y2="719.2"/>
<line x1="65" x2="72.1" y1="488.5" y2="488.5"/>
<line x1="65" x2="72.1" y1="257.7" y2="257.7"/>
<line x1="65" x2="72.1" y1="26.9" y2="26.9"/>
<line x1="196.8" x2="196.8" y1="883.3" y2="890"/>
<line x1="405.8" x2="405.8" y1="883.3" y2="890"/>
<line x1="614.9" x2="614.9" y1="883.3" y2="890"/>
<line x1="823.9" x2="823.9" y1="883.3" y2="890"/>
</g>
<g font-size="26.9" fill="#111" stroke="#111" stroke-width="0.3">
<text x="60.2" y="729.6" text-anchor="end">0</text>
<text x="60.2" y="498.9" text-anchor="end">5</text>
<text x="60.2" y="268.1" text-anchor="end">10</text>
<text x="60.2" y="37.3" text-anchor="end">15</text>
<text x="196.8" y="914.4" text-anchor="middle">CU</text>
<text x="405.8" y="914.4" text-anchor="middle">SCI</text>
<text x="614.9" y="914.4" text-anchor="middle">MCI</text>
<text x="823.9" y="914.4" text-anchor="middle">AD</text>
</g>
<text x="418" y="943.9" font-size="23.8" textLength="185" lengthAdjust="spacingAndGlyphs" fill="#000" stroke="#000" stroke-width="0.3">Diagnosis Group</text>
<text transform="translate(18.3,623.2) rotate(-90)" font-size="23.8" textLength="362.5" lengthAdjust="spacingAndGlyphs" fill="#000" stroke="#000" stroke-width="0.3">Delayed Spatial Memory (BVSM)</text>
</svg></body></html>
